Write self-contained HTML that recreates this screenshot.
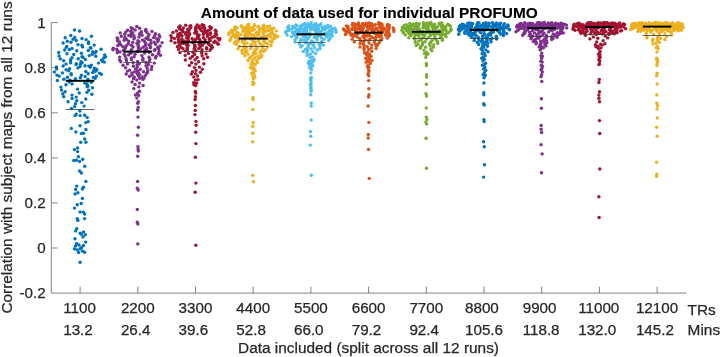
<!DOCTYPE html>
<html lang="en"><head><meta charset="utf-8"><title>Amount of data used for individual PROFUMO</title>
<style>html,body{margin:0;padding:0;background:#fff}body{width:720px;height:357px;overflow:hidden}svg{display:block;will-change:transform;opacity:.999}text{font-family:"Liberation Sans",Arial,Helvetica,sans-serif;fill:#262626;stroke:#262626;stroke-width:.25px}.t{font-size:15.2px}.l{font-size:15.4px}.b{font-size:15.4px;font-weight:bold;fill:#000;stroke:#000;stroke-width:.15px}</style></head><body>
<svg width="720" height="357" viewBox="0 0 720 357">
<rect width="720" height="357" fill="#fff"/>
<g fill="#0072BD">
<circle cx="70.8" cy="35.4" r="1.70"/>
<circle cx="91.5" cy="36.3" r="1.70"/>
<circle cx="74.7" cy="37.4" r="1.70"/>
<circle cx="65.2" cy="37.8" r="1.70"/>
<circle cx="82.0" cy="38.5" r="1.70"/>
<circle cx="73.1" cy="39.2" r="1.70"/>
<circle cx="86.1" cy="39.6" r="1.70"/>
<circle cx="76.3" cy="40.5" r="1.70"/>
<circle cx="67.3" cy="41.3" r="1.70"/>
<circle cx="88.6" cy="42.0" r="1.70"/>
<circle cx="71.0" cy="42.2" r="1.70"/>
<circle cx="63.1" cy="43.0" r="1.70"/>
<circle cx="88.5" cy="43.5" r="1.70"/>
<circle cx="78.0" cy="44.6" r="1.70"/>
<circle cx="94.2" cy="45.1" r="1.70"/>
<circle cx="81.9" cy="45.3" r="1.70"/>
<circle cx="66.8" cy="46.4" r="1.70"/>
<circle cx="82.6" cy="46.9" r="1.70"/>
<circle cx="66.3" cy="47.3" r="1.70"/>
<circle cx="90.3" cy="47.8" r="1.70"/>
<circle cx="91.0" cy="48.1" r="1.70"/>
<circle cx="72.0" cy="48.5" r="1.70"/>
<circle cx="101.1" cy="49.2" r="1.70"/>
<circle cx="69.4" cy="49.5" r="1.70"/>
<circle cx="64.7" cy="50.0" r="1.70"/>
<circle cx="88.3" cy="50.5" r="1.70"/>
<circle cx="76.7" cy="50.8" r="1.70"/>
<circle cx="96.1" cy="51.5" r="1.70"/>
<circle cx="92.7" cy="51.9" r="1.70"/>
<circle cx="58.7" cy="52.5" r="1.70"/>
<circle cx="95.0" cy="52.8" r="1.70"/>
<circle cx="81.4" cy="53.3" r="1.70"/>
<circle cx="67.0" cy="53.7" r="1.70"/>
<circle cx="92.4" cy="54.2" r="1.70"/>
<circle cx="73.8" cy="54.5" r="1.70"/>
<circle cx="104.7" cy="54.9" r="1.70"/>
<circle cx="89.3" cy="55.6" r="1.70"/>
<circle cx="59.1" cy="56.0" r="1.70"/>
<circle cx="95.8" cy="56.3" r="1.70"/>
<circle cx="82.0" cy="56.7" r="1.70"/>
<circle cx="105.6" cy="56.9" r="1.70"/>
<circle cx="82.9" cy="57.3" r="1.70"/>
<circle cx="72.0" cy="57.7" r="1.70"/>
<circle cx="103.6" cy="58.0" r="1.70"/>
<circle cx="78.2" cy="58.7" r="1.70"/>
<circle cx="60.3" cy="58.9" r="1.70"/>
<circle cx="85.3" cy="59.5" r="1.70"/>
<circle cx="70.5" cy="59.7" r="1.70"/>
<circle cx="101.6" cy="60.3" r="1.70"/>
<circle cx="70.6" cy="60.7" r="1.70"/>
<circle cx="63.7" cy="60.7" r="1.70"/>
<circle cx="102.6" cy="61.2" r="1.70"/>
<circle cx="81.0" cy="61.8" r="1.70"/>
<circle cx="104.4" cy="62.1" r="1.70"/>
<circle cx="82.2" cy="62.6" r="1.70"/>
<circle cx="70.7" cy="62.8" r="1.70"/>
<circle cx="98.5" cy="63.1" r="1.70"/>
<circle cx="76.3" cy="63.7" r="1.70"/>
<circle cx="66.0" cy="64.1" r="1.70"/>
<circle cx="80.5" cy="64.3" r="1.70"/>
<circle cx="76.1" cy="64.6" r="1.70"/>
<circle cx="91.4" cy="65.1" r="1.70"/>
<circle cx="85.0" cy="65.7" r="1.70"/>
<circle cx="63.1" cy="66.0" r="1.70"/>
<circle cx="88.8" cy="66.1" r="1.70"/>
<circle cx="80.0" cy="66.6" r="1.70"/>
<circle cx="56.4" cy="66.9" r="1.70"/>
<circle cx="90.3" cy="67.3" r="1.70"/>
<circle cx="78.0" cy="67.9" r="1.70"/>
<circle cx="94.4" cy="68.1" r="1.70"/>
<circle cx="69.6" cy="68.6" r="1.70"/>
<circle cx="56.6" cy="68.9" r="1.70"/>
<circle cx="96.3" cy="69.2" r="1.70"/>
<circle cx="66.1" cy="69.8" r="1.70"/>
<circle cx="96.8" cy="70.0" r="1.70"/>
<circle cx="93.8" cy="70.5" r="1.70"/>
<circle cx="68.7" cy="70.7" r="1.70"/>
<circle cx="95.3" cy="71.2" r="1.70"/>
<circle cx="85.8" cy="71.5" r="1.70"/>
<circle cx="54.4" cy="71.9" r="1.70"/>
<circle cx="92.7" cy="72.6" r="1.70"/>
<circle cx="62.4" cy="72.9" r="1.70"/>
<circle cx="99.4" cy="73.1" r="1.70"/>
<circle cx="88.1" cy="73.7" r="1.70"/>
<circle cx="71.1" cy="73.8" r="1.70"/>
<circle cx="101.4" cy="74.2" r="1.70"/>
<circle cx="71.3" cy="74.8" r="1.70"/>
<circle cx="56.9" cy="75.1" r="1.70"/>
<circle cx="81.4" cy="75.3" r="1.70"/>
<circle cx="59.2" cy="76.1" r="1.70"/>
<circle cx="96.4" cy="76.1" r="1.70"/>
<circle cx="85.2" cy="76.6" r="1.70"/>
<circle cx="67.4" cy="77.2" r="1.70"/>
<circle cx="93.4" cy="77.4" r="1.70"/>
<circle cx="80.4" cy="77.8" r="1.70"/>
<circle cx="95.1" cy="78.2" r="1.70"/>
<circle cx="75.4" cy="78.6" r="1.70"/>
<circle cx="63.9" cy="79.2" r="1.70"/>
<circle cx="87.9" cy="79.5" r="1.70"/>
<circle cx="69.9" cy="80.1" r="1.70"/>
<circle cx="57.4" cy="80.5" r="1.70"/>
<circle cx="87.7" cy="81.0" r="1.70"/>
<circle cx="69.2" cy="82.0" r="1.70"/>
<circle cx="91.3" cy="82.3" r="1.70"/>
<circle cx="84.8" cy="83.1" r="1.70"/>
<circle cx="72.1" cy="83.9" r="1.70"/>
<circle cx="87.0" cy="84.2" r="1.70"/>
<circle cx="66.0" cy="84.8" r="1.70"/>
<circle cx="88.0" cy="86.1" r="1.70"/>
<circle cx="87.2" cy="86.8" r="1.70"/>
<circle cx="60.9" cy="87.1" r="1.70"/>
<circle cx="92.5" cy="87.8" r="1.70"/>
<circle cx="77.5" cy="89.1" r="1.70"/>
<circle cx="61.5" cy="90.0" r="1.70"/>
<circle cx="88.7" cy="90.2" r="1.70"/>
<circle cx="65.1" cy="91.7" r="1.70"/>
<circle cx="86.9" cy="92.4" r="1.70"/>
<circle cx="79.2" cy="93.0" r="1.70"/>
<circle cx="62.8" cy="93.7" r="1.70"/>
<circle cx="91.9" cy="94.3" r="1.70"/>
<circle cx="72.0" cy="95.1" r="1.70"/>
<circle cx="63.7" cy="96.8" r="1.70"/>
<circle cx="76.2" cy="97.1" r="1.70"/>
<circle cx="72.1" cy="98.5" r="1.70"/>
<circle cx="85.8" cy="99.0" r="1.70"/>
<circle cx="76.8" cy="100.8" r="1.70"/>
<circle cx="68.1" cy="101.7" r="1.70"/>
<circle cx="81.8" cy="102.6" r="1.70"/>
<circle cx="75.4" cy="103.8" r="1.70"/>
<circle cx="84.1" cy="106.1" r="1.70"/>
<circle cx="74.7" cy="106.6" r="1.70"/>
<circle cx="71.5" cy="108.5" r="1.70"/>
<circle cx="79.8" cy="111.0" r="1.70"/>
<circle cx="76.3" cy="114.1" r="1.70"/>
<circle cx="74.5" cy="30.0" r="1.70"/>
<circle cx="79.6" cy="31.0" r="1.70"/>
<circle cx="75.1" cy="115.6" r="1.70"/>
<circle cx="80.1" cy="115.6" r="1.70"/>
<circle cx="84.7" cy="115.2" r="1.70"/>
<circle cx="87.2" cy="117.6" r="1.70"/>
<circle cx="88.2" cy="121.6" r="1.70"/>
<circle cx="85.9" cy="122.6" r="1.70"/>
<circle cx="80.1" cy="125.7" r="1.70"/>
<circle cx="71.3" cy="128.4" r="1.70"/>
<circle cx="85.9" cy="129.5" r="1.70"/>
<circle cx="75.9" cy="132.0" r="1.70"/>
<circle cx="83.4" cy="133.3" r="1.70"/>
<circle cx="81.4" cy="133.6" r="1.70"/>
<circle cx="84.7" cy="139.0" r="1.70"/>
<circle cx="80.7" cy="142.3" r="1.70"/>
<circle cx="85.9" cy="142.3" r="1.70"/>
<circle cx="77.6" cy="147.9" r="1.70"/>
<circle cx="74.4" cy="149.6" r="1.70"/>
<circle cx="77.6" cy="151.6" r="1.70"/>
<circle cx="78.4" cy="156.7" r="1.70"/>
<circle cx="73.8" cy="160.5" r="1.70"/>
<circle cx="76.4" cy="160.2" r="1.70"/>
<circle cx="82.7" cy="159.2" r="1.70"/>
<circle cx="79.6" cy="161.4" r="1.70"/>
<circle cx="84.7" cy="166.3" r="1.70"/>
<circle cx="79.6" cy="171.0" r="1.70"/>
<circle cx="81.4" cy="173.0" r="1.70"/>
<circle cx="85.9" cy="181.4" r="1.70"/>
<circle cx="76.8" cy="186.1" r="1.70"/>
<circle cx="83.5" cy="187.2" r="1.70"/>
<circle cx="75.6" cy="189.5" r="1.70"/>
<circle cx="82.4" cy="189.0" r="1.70"/>
<circle cx="77.9" cy="192.8" r="1.70"/>
<circle cx="75.0" cy="194.0" r="1.70"/>
<circle cx="82.4" cy="198.4" r="1.70"/>
<circle cx="81.2" cy="203.4" r="1.70"/>
<circle cx="77.2" cy="204.7" r="1.70"/>
<circle cx="74.5" cy="208.1" r="1.70"/>
<circle cx="80.1" cy="211.9" r="1.70"/>
<circle cx="83.5" cy="212.3" r="1.70"/>
<circle cx="84.6" cy="214.1" r="1.70"/>
<circle cx="77.2" cy="218.6" r="1.70"/>
<circle cx="77.9" cy="220.4" r="1.70"/>
<circle cx="84.6" cy="218.6" r="1.70"/>
<circle cx="76.8" cy="228.7" r="1.70"/>
<circle cx="75.6" cy="230.9" r="1.70"/>
<circle cx="83.5" cy="232.0" r="1.70"/>
<circle cx="80.1" cy="233.1" r="1.70"/>
<circle cx="81.2" cy="234.3" r="1.70"/>
<circle cx="85.3" cy="234.7" r="1.70"/>
<circle cx="83.0" cy="236.9" r="1.70"/>
<circle cx="75.0" cy="238.7" r="1.70"/>
<circle cx="85.7" cy="242.1" r="1.70"/>
<circle cx="79.0" cy="245.0" r="1.70"/>
<circle cx="75.6" cy="245.9" r="1.70"/>
<circle cx="83.5" cy="245.4" r="1.70"/>
<circle cx="74.5" cy="248.8" r="1.70"/>
<circle cx="77.2" cy="249.9" r="1.70"/>
<circle cx="80.1" cy="248.8" r="1.70"/>
<circle cx="82.4" cy="251.0" r="1.70"/>
<circle cx="84.6" cy="252.2" r="1.70"/>
<circle cx="76.6" cy="243.5" r="1.70"/>
<circle cx="81.6" cy="247.5" r="1.70"/>
<circle cx="78.6" cy="252.5" r="1.70"/>
<circle cx="80.1" cy="262.2" r="1.70"/>
</g>
<g fill="#7E2F8E">
<circle cx="136.8" cy="26.5" r="1.70"/>
<circle cx="131.1" cy="27.8" r="1.70"/>
<circle cx="139.6" cy="28.2" r="1.70"/>
<circle cx="132.6" cy="28.9" r="1.70"/>
<circle cx="145.9" cy="29.4" r="1.70"/>
<circle cx="135.2" cy="30.0" r="1.70"/>
<circle cx="127.6" cy="30.3" r="1.70"/>
<circle cx="145.5" cy="30.8" r="1.70"/>
<circle cx="130.8" cy="31.2" r="1.70"/>
<circle cx="152.0" cy="31.4" r="1.70"/>
<circle cx="141.3" cy="31.8" r="1.70"/>
<circle cx="125.8" cy="32.1" r="1.70"/>
<circle cx="146.8" cy="32.2" r="1.70"/>
<circle cx="132.7" cy="32.7" r="1.70"/>
<circle cx="120.2" cy="32.9" r="1.70"/>
<circle cx="140.7" cy="33.0" r="1.70"/>
<circle cx="131.3" cy="33.4" r="1.70"/>
<circle cx="155.4" cy="33.7" r="1.70"/>
<circle cx="139.4" cy="34.0" r="1.70"/>
<circle cx="124.7" cy="34.2" r="1.70"/>
<circle cx="148.9" cy="34.5" r="1.70"/>
<circle cx="131.2" cy="34.8" r="1.70"/>
<circle cx="159.1" cy="35.0" r="1.70"/>
<circle cx="142.1" cy="35.3" r="1.70"/>
<circle cx="128.7" cy="35.4" r="1.70"/>
<circle cx="154.7" cy="35.7" r="1.70"/>
<circle cx="133.9" cy="35.8" r="1.70"/>
<circle cx="121.3" cy="36.2" r="1.70"/>
<circle cx="148.1" cy="36.4" r="1.70"/>
<circle cx="130.9" cy="36.6" r="1.70"/>
<circle cx="159.8" cy="36.9" r="1.70"/>
<circle cx="139.0" cy="37.0" r="1.70"/>
<circle cx="124.9" cy="37.4" r="1.70"/>
<circle cx="153.6" cy="37.6" r="1.70"/>
<circle cx="134.4" cy="37.8" r="1.70"/>
<circle cx="117.1" cy="38.0" r="1.70"/>
<circle cx="146.0" cy="38.3" r="1.70"/>
<circle cx="125.4" cy="38.4" r="1.70"/>
<circle cx="156.8" cy="38.7" r="1.70"/>
<circle cx="133.9" cy="38.9" r="1.70"/>
<circle cx="117.9" cy="39.0" r="1.70"/>
<circle cx="148.1" cy="39.2" r="1.70"/>
<circle cx="126.5" cy="39.5" r="1.70"/>
<circle cx="158.5" cy="39.8" r="1.70"/>
<circle cx="142.5" cy="40.0" r="1.70"/>
<circle cx="124.2" cy="40.2" r="1.70"/>
<circle cx="150.7" cy="40.3" r="1.70"/>
<circle cx="137.9" cy="40.7" r="1.70"/>
<circle cx="117.4" cy="40.8" r="1.70"/>
<circle cx="144.5" cy="41.1" r="1.70"/>
<circle cx="128.7" cy="41.2" r="1.70"/>
<circle cx="157.7" cy="41.5" r="1.70"/>
<circle cx="139.0" cy="41.8" r="1.70"/>
<circle cx="119.5" cy="41.9" r="1.70"/>
<circle cx="154.1" cy="42.1" r="1.70"/>
<circle cx="132.8" cy="42.4" r="1.70"/>
<circle cx="162.1" cy="42.6" r="1.70"/>
<circle cx="145.2" cy="42.9" r="1.70"/>
<circle cx="128.3" cy="43.1" r="1.70"/>
<circle cx="151.0" cy="43.3" r="1.70"/>
<circle cx="137.0" cy="43.5" r="1.70"/>
<circle cx="119.3" cy="43.8" r="1.70"/>
<circle cx="145.7" cy="43.8" r="1.70"/>
<circle cx="128.2" cy="44.1" r="1.70"/>
<circle cx="155.6" cy="44.3" r="1.70"/>
<circle cx="138.1" cy="44.5" r="1.70"/>
<circle cx="120.8" cy="44.8" r="1.70"/>
<circle cx="148.9" cy="45.0" r="1.70"/>
<circle cx="131.4" cy="45.2" r="1.70"/>
<circle cx="117.8" cy="45.5" r="1.70"/>
<circle cx="145.3" cy="45.6" r="1.70"/>
<circle cx="126.2" cy="45.8" r="1.70"/>
<circle cx="160.2" cy="46.0" r="1.70"/>
<circle cx="138.3" cy="46.3" r="1.70"/>
<circle cx="122.8" cy="46.6" r="1.70"/>
<circle cx="150.5" cy="46.6" r="1.70"/>
<circle cx="133.0" cy="47.0" r="1.70"/>
<circle cx="157.8" cy="47.2" r="1.70"/>
<circle cx="143.0" cy="47.3" r="1.70"/>
<circle cx="125.3" cy="47.6" r="1.70"/>
<circle cx="150.4" cy="47.7" r="1.70"/>
<circle cx="138.4" cy="48.0" r="1.70"/>
<circle cx="113.2" cy="48.2" r="1.70"/>
<circle cx="146.6" cy="48.4" r="1.70"/>
<circle cx="125.0" cy="48.5" r="1.70"/>
<circle cx="158.7" cy="48.9" r="1.70"/>
<circle cx="140.4" cy="49.0" r="1.70"/>
<circle cx="116.6" cy="49.2" r="1.70"/>
<circle cx="155.1" cy="49.5" r="1.70"/>
<circle cx="131.5" cy="49.6" r="1.70"/>
<circle cx="112.9" cy="49.8" r="1.70"/>
<circle cx="144.9" cy="50.1" r="1.70"/>
<circle cx="123.5" cy="50.2" r="1.70"/>
<circle cx="154.4" cy="50.5" r="1.70"/>
<circle cx="137.9" cy="50.6" r="1.70"/>
<circle cx="117.5" cy="51.0" r="1.70"/>
<circle cx="147.0" cy="51.2" r="1.70"/>
<circle cx="131.0" cy="51.2" r="1.70"/>
<circle cx="159.0" cy="51.5" r="1.70"/>
<circle cx="137.3" cy="51.6" r="1.70"/>
<circle cx="120.0" cy="51.9" r="1.70"/>
<circle cx="149.3" cy="52.3" r="1.70"/>
<circle cx="131.3" cy="52.7" r="1.70"/>
<circle cx="117.3" cy="52.8" r="1.70"/>
<circle cx="144.6" cy="53.1" r="1.70"/>
<circle cx="130.1" cy="53.4" r="1.70"/>
<circle cx="158.4" cy="53.8" r="1.70"/>
<circle cx="135.0" cy="54.2" r="1.70"/>
<circle cx="124.2" cy="54.3" r="1.70"/>
<circle cx="152.5" cy="54.8" r="1.70"/>
<circle cx="128.6" cy="54.9" r="1.70"/>
<circle cx="160.4" cy="55.3" r="1.70"/>
<circle cx="141.9" cy="55.6" r="1.70"/>
<circle cx="125.3" cy="56.1" r="1.70"/>
<circle cx="156.0" cy="56.3" r="1.70"/>
<circle cx="134.1" cy="56.7" r="1.70"/>
<circle cx="119.7" cy="57.1" r="1.70"/>
<circle cx="149.0" cy="57.3" r="1.70"/>
<circle cx="131.3" cy="57.9" r="1.70"/>
<circle cx="155.6" cy="58.0" r="1.70"/>
<circle cx="142.9" cy="58.5" r="1.70"/>
<circle cx="126.1" cy="58.8" r="1.70"/>
<circle cx="149.9" cy="59.1" r="1.70"/>
<circle cx="131.4" cy="59.6" r="1.70"/>
<circle cx="119.6" cy="59.9" r="1.70"/>
<circle cx="142.9" cy="60.3" r="1.70"/>
<circle cx="126.5" cy="60.7" r="1.70"/>
<circle cx="149.3" cy="61.1" r="1.70"/>
<circle cx="137.6" cy="61.4" r="1.70"/>
<circle cx="120.8" cy="61.8" r="1.70"/>
<circle cx="145.9" cy="62.4" r="1.70"/>
<circle cx="133.1" cy="62.8" r="1.70"/>
<circle cx="154.3" cy="63.1" r="1.70"/>
<circle cx="139.3" cy="63.7" r="1.70"/>
<circle cx="127.6" cy="64.0" r="1.70"/>
<circle cx="148.4" cy="64.5" r="1.70"/>
<circle cx="137.1" cy="64.7" r="1.70"/>
<circle cx="123.0" cy="65.3" r="1.70"/>
<circle cx="146.0" cy="65.8" r="1.70"/>
<circle cx="133.4" cy="66.3" r="1.70"/>
<circle cx="151.8" cy="66.5" r="1.70"/>
<circle cx="137.3" cy="67.0" r="1.70"/>
<circle cx="125.6" cy="67.8" r="1.70"/>
<circle cx="147.2" cy="68.0" r="1.70"/>
<circle cx="135.7" cy="68.9" r="1.70"/>
<circle cx="151.4" cy="69.4" r="1.70"/>
<circle cx="140.3" cy="69.5" r="1.70"/>
<circle cx="129.7" cy="70.1" r="1.70"/>
<circle cx="147.8" cy="70.6" r="1.70"/>
<circle cx="137.3" cy="70.8" r="1.70"/>
<circle cx="127.5" cy="71.1" r="1.70"/>
<circle cx="143.5" cy="71.7" r="1.70"/>
<circle cx="134.4" cy="71.9" r="1.70"/>
<circle cx="147.5" cy="72.4" r="1.70"/>
<circle cx="138.3" cy="72.5" r="1.70"/>
<circle cx="131.8" cy="73.0" r="1.70"/>
<circle cx="146.5" cy="73.4" r="1.70"/>
<circle cx="137.2" cy="73.6" r="1.70"/>
<circle cx="126.2" cy="74.0" r="1.70"/>
<circle cx="139.6" cy="74.6" r="1.70"/>
<circle cx="132.2" cy="75.1" r="1.70"/>
<circle cx="145.3" cy="75.6" r="1.70"/>
<circle cx="138.3" cy="75.7" r="1.70"/>
<circle cx="129.6" cy="76.3" r="1.70"/>
<circle cx="142.1" cy="76.9" r="1.70"/>
<circle cx="134.3" cy="77.3" r="1.70"/>
<circle cx="144.1" cy="78.0" r="1.70"/>
<circle cx="139.7" cy="78.3" r="1.70"/>
<circle cx="133.6" cy="78.8" r="1.70"/>
<circle cx="142.9" cy="79.4" r="1.70"/>
<circle cx="136.8" cy="80.0" r="1.70"/>
<circle cx="132.0" cy="81.9" r="1.70"/>
<circle cx="139.6" cy="83.1" r="1.70"/>
<circle cx="135.1" cy="84.5" r="1.70"/>
<circle cx="143.1" cy="85.4" r="1.70"/>
<circle cx="138.8" cy="86.9" r="1.70"/>
<circle cx="133.8" cy="88.6" r="1.70"/>
<circle cx="139.5" cy="91.2" r="1.70"/>
<circle cx="137.4" cy="93.1" r="1.70"/>
<circle cx="135.4" cy="95.0" r="1.70"/>
<circle cx="138.6" cy="95.4" r="1.70"/>
<circle cx="136.8" cy="98.1" r="1.70"/>
<circle cx="138.4" cy="101.6" r="1.70"/>
<circle cx="137.7" cy="103.2" r="1.70"/>
<circle cx="138.2" cy="107.5" r="1.70"/>
<circle cx="137.6" cy="110.0" r="1.70"/>
<circle cx="138.0" cy="117.1" r="1.70"/>
<circle cx="138.4" cy="127.2" r="1.70"/>
<circle cx="137.6" cy="135.2" r="1.70"/>
<circle cx="137.9" cy="146.6" r="1.70"/>
<circle cx="138.1" cy="149.1" r="1.70"/>
<circle cx="138.3" cy="151.1" r="1.70"/>
<circle cx="137.7" cy="156.2" r="1.70"/>
<circle cx="137.6" cy="181.4" r="1.70"/>
<circle cx="137.3" cy="188.2" r="1.70"/>
<circle cx="138.2" cy="190.0" r="1.70"/>
<circle cx="137.3" cy="209.4" r="1.70"/>
<circle cx="137.3" cy="222.3" r="1.70"/>
<circle cx="137.9" cy="224.0" r="1.70"/>
<circle cx="137.8" cy="243.9" r="1.70"/>
</g>
<g fill="#A2142F">
<circle cx="202.2" cy="24.6" r="1.70"/>
<circle cx="197.2" cy="24.9" r="1.70"/>
<circle cx="185.7" cy="25.3" r="1.70"/>
<circle cx="203.9" cy="25.4" r="1.70"/>
<circle cx="190.7" cy="25.7" r="1.70"/>
<circle cx="180.2" cy="26.0" r="1.70"/>
<circle cx="199.4" cy="26.1" r="1.70"/>
<circle cx="189.8" cy="26.4" r="1.70"/>
<circle cx="209.8" cy="26.7" r="1.70"/>
<circle cx="195.9" cy="26.9" r="1.70"/>
<circle cx="178.7" cy="27.1" r="1.70"/>
<circle cx="202.9" cy="27.2" r="1.70"/>
<circle cx="190.8" cy="27.5" r="1.70"/>
<circle cx="211.4" cy="27.8" r="1.70"/>
<circle cx="198.8" cy="27.9" r="1.70"/>
<circle cx="183.4" cy="28.0" r="1.70"/>
<circle cx="204.6" cy="28.3" r="1.70"/>
<circle cx="195.8" cy="28.5" r="1.70"/>
<circle cx="179.5" cy="28.7" r="1.70"/>
<circle cx="200.3" cy="28.9" r="1.70"/>
<circle cx="187.6" cy="29.1" r="1.70"/>
<circle cx="210.4" cy="29.2" r="1.70"/>
<circle cx="195.5" cy="29.5" r="1.70"/>
<circle cx="181.0" cy="29.6" r="1.70"/>
<circle cx="204.7" cy="29.7" r="1.70"/>
<circle cx="189.2" cy="29.9" r="1.70"/>
<circle cx="215.4" cy="30.2" r="1.70"/>
<circle cx="201.3" cy="30.4" r="1.70"/>
<circle cx="182.4" cy="30.4" r="1.70"/>
<circle cx="208.2" cy="30.6" r="1.70"/>
<circle cx="195.6" cy="30.8" r="1.70"/>
<circle cx="176.4" cy="31.0" r="1.70"/>
<circle cx="207.3" cy="31.2" r="1.70"/>
<circle cx="188.0" cy="31.3" r="1.70"/>
<circle cx="216.2" cy="31.5" r="1.70"/>
<circle cx="196.7" cy="31.7" r="1.70"/>
<circle cx="183.3" cy="31.9" r="1.70"/>
<circle cx="205.5" cy="32.0" r="1.70"/>
<circle cx="188.8" cy="32.2" r="1.70"/>
<circle cx="173.0" cy="32.4" r="1.70"/>
<circle cx="203.3" cy="32.5" r="1.70"/>
<circle cx="186.3" cy="32.7" r="1.70"/>
<circle cx="210.5" cy="32.9" r="1.70"/>
<circle cx="194.7" cy="33.0" r="1.70"/>
<circle cx="180.4" cy="33.1" r="1.70"/>
<circle cx="207.0" cy="33.3" r="1.70"/>
<circle cx="185.7" cy="33.5" r="1.70"/>
<circle cx="215.4" cy="33.7" r="1.70"/>
<circle cx="197.1" cy="33.9" r="1.70"/>
<circle cx="178.9" cy="34.0" r="1.70"/>
<circle cx="210.1" cy="34.2" r="1.70"/>
<circle cx="189.6" cy="34.2" r="1.70"/>
<circle cx="177.9" cy="34.4" r="1.70"/>
<circle cx="203.5" cy="34.6" r="1.70"/>
<circle cx="185.9" cy="34.7" r="1.70"/>
<circle cx="216.6" cy="34.8" r="1.70"/>
<circle cx="199.2" cy="35.1" r="1.70"/>
<circle cx="181.1" cy="35.3" r="1.70"/>
<circle cx="207.7" cy="35.3" r="1.70"/>
<circle cx="188.7" cy="35.5" r="1.70"/>
<circle cx="171.0" cy="35.6" r="1.70"/>
<circle cx="197.8" cy="35.9" r="1.70"/>
<circle cx="182.0" cy="36.0" r="1.70"/>
<circle cx="214.9" cy="36.1" r="1.70"/>
<circle cx="198.2" cy="36.2" r="1.70"/>
<circle cx="177.6" cy="36.5" r="1.70"/>
<circle cx="207.5" cy="36.6" r="1.70"/>
<circle cx="187.9" cy="36.7" r="1.70"/>
<circle cx="214.3" cy="36.8" r="1.70"/>
<circle cx="197.6" cy="37.0" r="1.70"/>
<circle cx="178.5" cy="37.2" r="1.70"/>
<circle cx="212.0" cy="37.3" r="1.70"/>
<circle cx="188.4" cy="37.4" r="1.70"/>
<circle cx="171.5" cy="37.6" r="1.70"/>
<circle cx="203.5" cy="37.8" r="1.70"/>
<circle cx="186.6" cy="37.9" r="1.70"/>
<circle cx="217.7" cy="38.1" r="1.70"/>
<circle cx="197.0" cy="38.2" r="1.70"/>
<circle cx="174.4" cy="38.4" r="1.70"/>
<circle cx="210.0" cy="38.5" r="1.70"/>
<circle cx="192.1" cy="38.7" r="1.70"/>
<circle cx="219.9" cy="38.8" r="1.70"/>
<circle cx="199.4" cy="39.0" r="1.70"/>
<circle cx="181.7" cy="39.1" r="1.70"/>
<circle cx="209.4" cy="39.3" r="1.70"/>
<circle cx="195.0" cy="39.4" r="1.70"/>
<circle cx="178.4" cy="39.5" r="1.70"/>
<circle cx="205.1" cy="39.7" r="1.70"/>
<circle cx="187.9" cy="39.9" r="1.70"/>
<circle cx="219.2" cy="40.0" r="1.70"/>
<circle cx="195.4" cy="40.1" r="1.70"/>
<circle cx="182.6" cy="40.2" r="1.70"/>
<circle cx="210.3" cy="40.5" r="1.70"/>
<circle cx="188.3" cy="40.7" r="1.70"/>
<circle cx="171.1" cy="40.7" r="1.70"/>
<circle cx="200.2" cy="40.8" r="1.70"/>
<circle cx="184.2" cy="41.0" r="1.70"/>
<circle cx="215.1" cy="41.2" r="1.70"/>
<circle cx="193.7" cy="41.3" r="1.70"/>
<circle cx="179.9" cy="41.6" r="1.70"/>
<circle cx="205.4" cy="41.6" r="1.70"/>
<circle cx="187.7" cy="41.8" r="1.70"/>
<circle cx="214.9" cy="41.9" r="1.70"/>
<circle cx="203.0" cy="42.1" r="1.70"/>
<circle cx="178.4" cy="42.3" r="1.70"/>
<circle cx="213.7" cy="42.4" r="1.70"/>
<circle cx="192.8" cy="42.6" r="1.70"/>
<circle cx="174.9" cy="42.8" r="1.70"/>
<circle cx="204.0" cy="43.0" r="1.70"/>
<circle cx="183.9" cy="43.2" r="1.70"/>
<circle cx="217.5" cy="43.2" r="1.70"/>
<circle cx="200.3" cy="43.4" r="1.70"/>
<circle cx="181.4" cy="43.6" r="1.70"/>
<circle cx="208.2" cy="43.8" r="1.70"/>
<circle cx="187.2" cy="44.0" r="1.70"/>
<circle cx="218.2" cy="44.2" r="1.70"/>
<circle cx="199.2" cy="44.4" r="1.70"/>
<circle cx="186.4" cy="44.5" r="1.70"/>
<circle cx="209.4" cy="44.7" r="1.70"/>
<circle cx="194.7" cy="44.9" r="1.70"/>
<circle cx="179.5" cy="45.0" r="1.70"/>
<circle cx="202.3" cy="45.3" r="1.70"/>
<circle cx="188.1" cy="45.4" r="1.70"/>
<circle cx="211.6" cy="45.7" r="1.70"/>
<circle cx="194.9" cy="45.9" r="1.70"/>
<circle cx="179.7" cy="46.0" r="1.70"/>
<circle cx="211.2" cy="46.2" r="1.70"/>
<circle cx="194.8" cy="46.5" r="1.70"/>
<circle cx="177.4" cy="46.7" r="1.70"/>
<circle cx="200.3" cy="46.8" r="1.70"/>
<circle cx="187.3" cy="47.0" r="1.70"/>
<circle cx="212.3" cy="47.3" r="1.70"/>
<circle cx="194.9" cy="47.4" r="1.70"/>
<circle cx="181.4" cy="47.6" r="1.70"/>
<circle cx="206.6" cy="47.8" r="1.70"/>
<circle cx="187.2" cy="48.2" r="1.70"/>
<circle cx="211.4" cy="48.4" r="1.70"/>
<circle cx="198.8" cy="48.5" r="1.70"/>
<circle cx="182.9" cy="48.7" r="1.70"/>
<circle cx="206.7" cy="49.0" r="1.70"/>
<circle cx="194.1" cy="49.1" r="1.70"/>
<circle cx="178.6" cy="49.5" r="1.70"/>
<circle cx="202.0" cy="49.7" r="1.70"/>
<circle cx="187.4" cy="49.8" r="1.70"/>
<circle cx="210.2" cy="50.0" r="1.70"/>
<circle cx="195.9" cy="50.7" r="1.70"/>
<circle cx="185.0" cy="51.1" r="1.70"/>
<circle cx="201.9" cy="51.8" r="1.70"/>
<circle cx="193.0" cy="52.2" r="1.70"/>
<circle cx="180.0" cy="52.6" r="1.70"/>
<circle cx="201.7" cy="52.9" r="1.70"/>
<circle cx="188.4" cy="53.4" r="1.70"/>
<circle cx="206.0" cy="54.0" r="1.70"/>
<circle cx="194.6" cy="54.5" r="1.70"/>
<circle cx="185.2" cy="55.4" r="1.70"/>
<circle cx="202.1" cy="55.8" r="1.70"/>
<circle cx="192.4" cy="56.5" r="1.70"/>
<circle cx="207.5" cy="57.3" r="1.70"/>
<circle cx="197.2" cy="57.5" r="1.70"/>
<circle cx="190.2" cy="58.3" r="1.70"/>
<circle cx="203.7" cy="58.7" r="1.70"/>
<circle cx="195.1" cy="59.8" r="1.70"/>
<circle cx="185.4" cy="60.0" r="1.70"/>
<circle cx="198.5" cy="61.7" r="1.70"/>
<circle cx="191.6" cy="62.8" r="1.70"/>
<circle cx="203.9" cy="63.8" r="1.70"/>
<circle cx="195.9" cy="64.1" r="1.70"/>
<circle cx="189.4" cy="65.4" r="1.70"/>
<circle cx="199.4" cy="67.1" r="1.70"/>
<circle cx="194.5" cy="67.6" r="1.70"/>
<circle cx="202.3" cy="69.3" r="1.70"/>
<circle cx="196.0" cy="70.4" r="1.70"/>
<circle cx="192.4" cy="71.7" r="1.70"/>
<circle cx="200.5" cy="72.3" r="1.70"/>
<circle cx="195.5" cy="73.6" r="1.70"/>
<circle cx="191.3" cy="74.1" r="1.70"/>
<circle cx="197.5" cy="76.0" r="1.70"/>
<circle cx="193.8" cy="76.9" r="1.70"/>
<circle cx="198.1" cy="79.6" r="1.70"/>
<circle cx="195.4" cy="79.9" r="1.70"/>
<circle cx="193.7" cy="82.6" r="1.70"/>
<circle cx="196.7" cy="82.9" r="1.70"/>
<circle cx="195.1" cy="83.9" r="1.70"/>
<circle cx="193.9" cy="84.8" r="1.70"/>
<circle cx="195.7" cy="85.5" r="1.70"/>
<circle cx="195.3" cy="91.4" r="1.70"/>
<circle cx="195.8" cy="93.1" r="1.70"/>
<circle cx="195.4" cy="96.7" r="1.70"/>
<circle cx="195.1" cy="99.5" r="1.70"/>
<circle cx="195.4" cy="105.5" r="1.70"/>
<circle cx="195.2" cy="110.5" r="1.70"/>
<circle cx="195.0" cy="114.6" r="1.70"/>
<circle cx="196.0" cy="121.4" r="1.70"/>
<circle cx="196.1" cy="125.2" r="1.70"/>
<circle cx="195.7" cy="132.2" r="1.70"/>
<circle cx="195.9" cy="143.6" r="1.70"/>
<circle cx="195.4" cy="157.2" r="1.70"/>
<circle cx="195.9" cy="183.1" r="1.70"/>
<circle cx="195.2" cy="192.2" r="1.70"/>
<circle cx="195.8" cy="245.2" r="1.70"/>
</g>
<g fill="#EDB120">
<circle cx="248.7" cy="24.1" r="1.70"/>
<circle cx="254.4" cy="24.7" r="1.70"/>
<circle cx="248.0" cy="24.7" r="1.70"/>
<circle cx="263.7" cy="25.2" r="1.70"/>
<circle cx="254.6" cy="25.3" r="1.70"/>
<circle cx="241.5" cy="25.6" r="1.70"/>
<circle cx="263.4" cy="25.8" r="1.70"/>
<circle cx="247.6" cy="25.9" r="1.70"/>
<circle cx="269.5" cy="26.1" r="1.70"/>
<circle cx="258.3" cy="26.2" r="1.70"/>
<circle cx="241.4" cy="26.4" r="1.70"/>
<circle cx="266.9" cy="26.5" r="1.70"/>
<circle cx="249.0" cy="26.8" r="1.70"/>
<circle cx="235.0" cy="27.0" r="1.70"/>
<circle cx="258.0" cy="27.1" r="1.70"/>
<circle cx="245.3" cy="27.2" r="1.70"/>
<circle cx="267.3" cy="27.4" r="1.70"/>
<circle cx="252.4" cy="27.5" r="1.70"/>
<circle cx="237.0" cy="27.7" r="1.70"/>
<circle cx="263.8" cy="27.9" r="1.70"/>
<circle cx="247.1" cy="28.0" r="1.70"/>
<circle cx="273.7" cy="28.2" r="1.70"/>
<circle cx="261.5" cy="28.4" r="1.70"/>
<circle cx="243.2" cy="28.5" r="1.70"/>
<circle cx="270.8" cy="28.6" r="1.70"/>
<circle cx="249.9" cy="28.7" r="1.70"/>
<circle cx="234.6" cy="28.9" r="1.70"/>
<circle cx="259.3" cy="29.1" r="1.70"/>
<circle cx="246.8" cy="29.3" r="1.70"/>
<circle cx="271.9" cy="29.3" r="1.70"/>
<circle cx="254.3" cy="29.5" r="1.70"/>
<circle cx="235.4" cy="29.6" r="1.70"/>
<circle cx="264.3" cy="29.8" r="1.70"/>
<circle cx="247.7" cy="29.8" r="1.70"/>
<circle cx="231.3" cy="30.1" r="1.70"/>
<circle cx="263.2" cy="30.2" r="1.70"/>
<circle cx="244.3" cy="30.3" r="1.70"/>
<circle cx="269.3" cy="30.5" r="1.70"/>
<circle cx="252.5" cy="30.5" r="1.70"/>
<circle cx="233.3" cy="30.8" r="1.70"/>
<circle cx="267.6" cy="30.8" r="1.70"/>
<circle cx="245.7" cy="30.9" r="1.70"/>
<circle cx="276.5" cy="31.1" r="1.70"/>
<circle cx="259.4" cy="31.2" r="1.70"/>
<circle cx="242.8" cy="31.4" r="1.70"/>
<circle cx="265.2" cy="31.6" r="1.70"/>
<circle cx="249.5" cy="31.7" r="1.70"/>
<circle cx="231.9" cy="31.7" r="1.70"/>
<circle cx="258.9" cy="31.9" r="1.70"/>
<circle cx="246.8" cy="32.1" r="1.70"/>
<circle cx="272.1" cy="32.2" r="1.70"/>
<circle cx="257.2" cy="32.3" r="1.70"/>
<circle cx="236.9" cy="32.4" r="1.70"/>
<circle cx="263.1" cy="32.5" r="1.70"/>
<circle cx="247.3" cy="32.7" r="1.70"/>
<circle cx="229.0" cy="32.8" r="1.70"/>
<circle cx="256.0" cy="32.9" r="1.70"/>
<circle cx="238.3" cy="33.0" r="1.70"/>
<circle cx="271.7" cy="33.2" r="1.70"/>
<circle cx="248.8" cy="33.4" r="1.70"/>
<circle cx="232.5" cy="33.4" r="1.70"/>
<circle cx="263.3" cy="33.6" r="1.70"/>
<circle cx="245.7" cy="33.8" r="1.70"/>
<circle cx="272.6" cy="33.9" r="1.70"/>
<circle cx="258.5" cy="33.9" r="1.70"/>
<circle cx="236.4" cy="34.1" r="1.70"/>
<circle cx="270.1" cy="34.3" r="1.70"/>
<circle cx="251.0" cy="34.4" r="1.70"/>
<circle cx="228.8" cy="34.5" r="1.70"/>
<circle cx="259.0" cy="34.6" r="1.70"/>
<circle cx="240.9" cy="34.7" r="1.70"/>
<circle cx="274.5" cy="34.9" r="1.70"/>
<circle cx="253.4" cy="35.0" r="1.70"/>
<circle cx="234.6" cy="35.1" r="1.70"/>
<circle cx="268.6" cy="35.3" r="1.70"/>
<circle cx="244.8" cy="35.3" r="1.70"/>
<circle cx="275.7" cy="35.5" r="1.70"/>
<circle cx="257.4" cy="35.6" r="1.70"/>
<circle cx="237.6" cy="35.7" r="1.70"/>
<circle cx="266.6" cy="35.9" r="1.70"/>
<circle cx="247.7" cy="36.0" r="1.70"/>
<circle cx="233.6" cy="36.1" r="1.70"/>
<circle cx="263.6" cy="36.3" r="1.70"/>
<circle cx="246.7" cy="36.4" r="1.70"/>
<circle cx="277.8" cy="36.5" r="1.70"/>
<circle cx="254.3" cy="36.7" r="1.70"/>
<circle cx="238.3" cy="36.7" r="1.70"/>
<circle cx="270.8" cy="37.0" r="1.70"/>
<circle cx="246.4" cy="37.1" r="1.70"/>
<circle cx="231.4" cy="37.1" r="1.70"/>
<circle cx="261.6" cy="37.3" r="1.70"/>
<circle cx="245.1" cy="37.4" r="1.70"/>
<circle cx="274.6" cy="37.5" r="1.70"/>
<circle cx="251.0" cy="37.7" r="1.70"/>
<circle cx="235.6" cy="37.8" r="1.70"/>
<circle cx="261.4" cy="37.9" r="1.70"/>
<circle cx="245.5" cy="38.1" r="1.70"/>
<circle cx="275.1" cy="38.2" r="1.70"/>
<circle cx="254.1" cy="38.3" r="1.70"/>
<circle cx="238.2" cy="38.5" r="1.70"/>
<circle cx="267.4" cy="38.7" r="1.70"/>
<circle cx="250.4" cy="38.8" r="1.70"/>
<circle cx="230.5" cy="39.0" r="1.70"/>
<circle cx="259.1" cy="39.2" r="1.70"/>
<circle cx="242.8" cy="39.4" r="1.70"/>
<circle cx="272.6" cy="39.6" r="1.70"/>
<circle cx="252.2" cy="39.8" r="1.70"/>
<circle cx="238.0" cy="39.9" r="1.70"/>
<circle cx="263.8" cy="40.2" r="1.70"/>
<circle cx="244.8" cy="40.3" r="1.70"/>
<circle cx="229.9" cy="40.6" r="1.70"/>
<circle cx="258.3" cy="40.7" r="1.70"/>
<circle cx="238.6" cy="40.9" r="1.70"/>
<circle cx="270.2" cy="41.2" r="1.70"/>
<circle cx="253.6" cy="41.4" r="1.70"/>
<circle cx="235.4" cy="41.6" r="1.70"/>
<circle cx="264.1" cy="41.7" r="1.70"/>
<circle cx="242.4" cy="42.0" r="1.70"/>
<circle cx="272.0" cy="42.1" r="1.70"/>
<circle cx="255.1" cy="42.4" r="1.70"/>
<circle cx="236.9" cy="42.6" r="1.70"/>
<circle cx="265.3" cy="42.7" r="1.70"/>
<circle cx="247.0" cy="43.1" r="1.70"/>
<circle cx="234.5" cy="43.3" r="1.70"/>
<circle cx="260.0" cy="43.5" r="1.70"/>
<circle cx="244.2" cy="43.8" r="1.70"/>
<circle cx="267.5" cy="43.9" r="1.70"/>
<circle cx="252.1" cy="44.1" r="1.70"/>
<circle cx="236.2" cy="44.3" r="1.70"/>
<circle cx="261.5" cy="44.7" r="1.70"/>
<circle cx="250.6" cy="44.9" r="1.70"/>
<circle cx="271.0" cy="45.2" r="1.70"/>
<circle cx="255.5" cy="45.4" r="1.70"/>
<circle cx="244.3" cy="45.8" r="1.70"/>
<circle cx="263.2" cy="45.9" r="1.70"/>
<circle cx="251.5" cy="46.4" r="1.70"/>
<circle cx="239.3" cy="46.5" r="1.70"/>
<circle cx="262.1" cy="46.8" r="1.70"/>
<circle cx="246.2" cy="47.2" r="1.70"/>
<circle cx="267.7" cy="47.3" r="1.70"/>
<circle cx="257.0" cy="47.5" r="1.70"/>
<circle cx="243.8" cy="47.9" r="1.70"/>
<circle cx="262.8" cy="48.1" r="1.70"/>
<circle cx="250.7" cy="48.5" r="1.70"/>
<circle cx="238.0" cy="48.8" r="1.70"/>
<circle cx="256.9" cy="49.1" r="1.70"/>
<circle cx="244.8" cy="49.3" r="1.70"/>
<circle cx="265.5" cy="49.8" r="1.70"/>
<circle cx="254.6" cy="49.9" r="1.70"/>
<circle cx="241.9" cy="50.5" r="1.70"/>
<circle cx="261.1" cy="50.6" r="1.70"/>
<circle cx="247.1" cy="51.0" r="1.70"/>
<circle cx="263.6" cy="51.3" r="1.70"/>
<circle cx="255.2" cy="51.9" r="1.70"/>
<circle cx="245.3" cy="52.3" r="1.70"/>
<circle cx="259.9" cy="52.7" r="1.70"/>
<circle cx="253.4" cy="52.8" r="1.70"/>
<circle cx="242.4" cy="53.3" r="1.70"/>
<circle cx="255.7" cy="53.8" r="1.70"/>
<circle cx="248.0" cy="54.1" r="1.70"/>
<circle cx="261.8" cy="54.9" r="1.70"/>
<circle cx="252.8" cy="55.0" r="1.70"/>
<circle cx="244.9" cy="55.7" r="1.70"/>
<circle cx="258.1" cy="56.3" r="1.70"/>
<circle cx="250.7" cy="56.9" r="1.70"/>
<circle cx="261.2" cy="57.0" r="1.70"/>
<circle cx="255.1" cy="57.7" r="1.70"/>
<circle cx="249.3" cy="58.4" r="1.70"/>
<circle cx="258.8" cy="58.6" r="1.70"/>
<circle cx="253.0" cy="59.4" r="1.70"/>
<circle cx="248.0" cy="60.5" r="1.70"/>
<circle cx="256.5" cy="60.6" r="1.70"/>
<circle cx="252.0" cy="61.6" r="1.70"/>
<circle cx="257.5" cy="62.4" r="1.70"/>
<circle cx="253.5" cy="63.4" r="1.70"/>
<circle cx="250.9" cy="64.1" r="1.70"/>
<circle cx="255.4" cy="64.8" r="1.70"/>
<circle cx="252.8" cy="66.7" r="1.70"/>
<circle cx="250.4" cy="67.5" r="1.70"/>
<circle cx="254.2" cy="68.7" r="1.70"/>
<circle cx="252.4" cy="69.3" r="1.70"/>
<circle cx="255.2" cy="70.8" r="1.70"/>
<circle cx="253.0" cy="72.6" r="1.70"/>
<circle cx="251.6" cy="73.4" r="1.70"/>
<circle cx="254.2" cy="74.8" r="1.70"/>
<circle cx="252.7" cy="76.6" r="1.70"/>
<circle cx="254.8" cy="77.2" r="1.70"/>
<circle cx="253.4" cy="78.7" r="1.70"/>
<circle cx="252.6" cy="81.9" r="1.70"/>
<circle cx="253.9" cy="83.3" r="1.70"/>
<circle cx="253.0" cy="84.5" r="1.70"/>
<circle cx="252.9" cy="97.5" r="1.70"/>
<circle cx="253.0" cy="99.5" r="1.70"/>
<circle cx="252.8" cy="109.4" r="1.70"/>
<circle cx="253.2" cy="122.6" r="1.70"/>
<circle cx="252.7" cy="126.2" r="1.70"/>
<circle cx="252.7" cy="133.2" r="1.70"/>
<circle cx="252.7" cy="141.8" r="1.70"/>
<circle cx="252.7" cy="175.3" r="1.70"/>
<circle cx="253.4" cy="181.6" r="1.70"/>
</g>
<g fill="#4DBEEE">
<circle cx="311.2" cy="22.7" r="1.70"/>
<circle cx="305.0" cy="23.4" r="1.70"/>
<circle cx="315.9" cy="23.7" r="1.70"/>
<circle cx="308.0" cy="23.9" r="1.70"/>
<circle cx="320.9" cy="24.0" r="1.70"/>
<circle cx="315.0" cy="24.3" r="1.70"/>
<circle cx="303.4" cy="24.5" r="1.70"/>
<circle cx="320.5" cy="24.5" r="1.70"/>
<circle cx="310.1" cy="24.7" r="1.70"/>
<circle cx="295.9" cy="24.9" r="1.70"/>
<circle cx="316.9" cy="25.1" r="1.70"/>
<circle cx="302.1" cy="25.2" r="1.70"/>
<circle cx="327.7" cy="25.4" r="1.70"/>
<circle cx="312.9" cy="25.4" r="1.70"/>
<circle cx="296.9" cy="25.6" r="1.70"/>
<circle cx="319.3" cy="25.7" r="1.70"/>
<circle cx="307.2" cy="25.8" r="1.70"/>
<circle cx="288.9" cy="26.0" r="1.70"/>
<circle cx="317.3" cy="26.1" r="1.70"/>
<circle cx="300.3" cy="26.2" r="1.70"/>
<circle cx="330.4" cy="26.3" r="1.70"/>
<circle cx="307.7" cy="26.4" r="1.70"/>
<circle cx="292.7" cy="26.5" r="1.70"/>
<circle cx="324.4" cy="26.6" r="1.70"/>
<circle cx="305.3" cy="26.7" r="1.70"/>
<circle cx="330.4" cy="26.8" r="1.70"/>
<circle cx="316.0" cy="26.9" r="1.70"/>
<circle cx="300.4" cy="27.0" r="1.70"/>
<circle cx="324.5" cy="27.1" r="1.70"/>
<circle cx="310.3" cy="27.2" r="1.70"/>
<circle cx="287.7" cy="27.3" r="1.70"/>
<circle cx="322.2" cy="27.4" r="1.70"/>
<circle cx="300.6" cy="27.6" r="1.70"/>
<circle cx="327.7" cy="27.7" r="1.70"/>
<circle cx="314.3" cy="27.8" r="1.70"/>
<circle cx="294.9" cy="27.8" r="1.70"/>
<circle cx="326.3" cy="28.0" r="1.70"/>
<circle cx="307.3" cy="28.1" r="1.70"/>
<circle cx="334.8" cy="28.2" r="1.70"/>
<circle cx="316.2" cy="28.3" r="1.70"/>
<circle cx="301.5" cy="28.4" r="1.70"/>
<circle cx="324.2" cy="28.5" r="1.70"/>
<circle cx="312.0" cy="28.5" r="1.70"/>
<circle cx="292.2" cy="28.7" r="1.70"/>
<circle cx="318.6" cy="28.8" r="1.70"/>
<circle cx="304.4" cy="28.8" r="1.70"/>
<circle cx="331.9" cy="29.0" r="1.70"/>
<circle cx="313.8" cy="29.1" r="1.70"/>
<circle cx="297.5" cy="29.2" r="1.70"/>
<circle cx="322.8" cy="29.3" r="1.70"/>
<circle cx="304.6" cy="29.4" r="1.70"/>
<circle cx="288.6" cy="29.4" r="1.70"/>
<circle cx="314.6" cy="29.6" r="1.70"/>
<circle cx="299.5" cy="29.7" r="1.70"/>
<circle cx="332.0" cy="29.8" r="1.70"/>
<circle cx="310.7" cy="29.9" r="1.70"/>
<circle cx="289.8" cy="30.0" r="1.70"/>
<circle cx="324.9" cy="30.1" r="1.70"/>
<circle cx="306.3" cy="30.2" r="1.70"/>
<circle cx="335.7" cy="30.3" r="1.70"/>
<circle cx="315.6" cy="30.4" r="1.70"/>
<circle cx="299.5" cy="30.5" r="1.70"/>
<circle cx="329.4" cy="30.6" r="1.70"/>
<circle cx="305.2" cy="30.7" r="1.70"/>
<circle cx="287.9" cy="30.8" r="1.70"/>
<circle cx="316.6" cy="30.9" r="1.70"/>
<circle cx="297.0" cy="31.0" r="1.70"/>
<circle cx="330.3" cy="31.0" r="1.70"/>
<circle cx="315.4" cy="31.1" r="1.70"/>
<circle cx="296.1" cy="31.2" r="1.70"/>
<circle cx="321.2" cy="31.4" r="1.70"/>
<circle cx="302.6" cy="31.5" r="1.70"/>
<circle cx="285.8" cy="31.6" r="1.70"/>
<circle cx="319.8" cy="31.6" r="1.70"/>
<circle cx="298.8" cy="31.8" r="1.70"/>
<circle cx="332.1" cy="31.8" r="1.70"/>
<circle cx="306.3" cy="32.0" r="1.70"/>
<circle cx="294.4" cy="32.0" r="1.70"/>
<circle cx="319.2" cy="32.2" r="1.70"/>
<circle cx="303.4" cy="32.2" r="1.70"/>
<circle cx="336.0" cy="32.3" r="1.70"/>
<circle cx="316.1" cy="32.5" r="1.70"/>
<circle cx="292.5" cy="32.5" r="1.70"/>
<circle cx="327.5" cy="32.6" r="1.70"/>
<circle cx="306.3" cy="32.7" r="1.70"/>
<circle cx="285.8" cy="32.8" r="1.70"/>
<circle cx="317.4" cy="33.0" r="1.70"/>
<circle cx="298.2" cy="33.0" r="1.70"/>
<circle cx="331.5" cy="33.1" r="1.70"/>
<circle cx="309.7" cy="33.2" r="1.70"/>
<circle cx="293.3" cy="33.3" r="1.70"/>
<circle cx="324.6" cy="33.5" r="1.70"/>
<circle cx="301.7" cy="33.5" r="1.70"/>
<circle cx="331.7" cy="33.7" r="1.70"/>
<circle cx="317.3" cy="33.7" r="1.70"/>
<circle cx="296.9" cy="33.8" r="1.70"/>
<circle cx="324.4" cy="34.0" r="1.70"/>
<circle cx="305.7" cy="34.0" r="1.70"/>
<circle cx="293.6" cy="34.1" r="1.70"/>
<circle cx="321.0" cy="34.3" r="1.70"/>
<circle cx="300.6" cy="34.4" r="1.70"/>
<circle cx="329.1" cy="34.5" r="1.70"/>
<circle cx="316.9" cy="34.6" r="1.70"/>
<circle cx="296.3" cy="34.8" r="1.70"/>
<circle cx="326.1" cy="34.9" r="1.70"/>
<circle cx="305.0" cy="35.0" r="1.70"/>
<circle cx="287.2" cy="35.1" r="1.70"/>
<circle cx="316.6" cy="35.2" r="1.70"/>
<circle cx="296.6" cy="35.3" r="1.70"/>
<circle cx="329.3" cy="35.4" r="1.70"/>
<circle cx="309.8" cy="35.5" r="1.70"/>
<circle cx="294.9" cy="35.6" r="1.70"/>
<circle cx="320.7" cy="35.8" r="1.70"/>
<circle cx="303.3" cy="35.9" r="1.70"/>
<circle cx="332.3" cy="36.0" r="1.70"/>
<circle cx="317.8" cy="36.2" r="1.70"/>
<circle cx="296.0" cy="36.3" r="1.70"/>
<circle cx="326.6" cy="36.4" r="1.70"/>
<circle cx="306.0" cy="36.5" r="1.70"/>
<circle cx="291.4" cy="36.6" r="1.70"/>
<circle cx="316.9" cy="36.9" r="1.70"/>
<circle cx="304.2" cy="36.9" r="1.70"/>
<circle cx="327.0" cy="37.1" r="1.70"/>
<circle cx="314.3" cy="37.4" r="1.70"/>
<circle cx="297.0" cy="37.7" r="1.70"/>
<circle cx="321.4" cy="37.9" r="1.70"/>
<circle cx="308.7" cy="38.1" r="1.70"/>
<circle cx="330.1" cy="38.4" r="1.70"/>
<circle cx="316.9" cy="38.7" r="1.70"/>
<circle cx="301.1" cy="39.0" r="1.70"/>
<circle cx="323.9" cy="39.3" r="1.70"/>
<circle cx="307.0" cy="39.3" r="1.70"/>
<circle cx="295.1" cy="39.8" r="1.70"/>
<circle cx="317.1" cy="40.0" r="1.70"/>
<circle cx="304.1" cy="40.3" r="1.70"/>
<circle cx="328.7" cy="40.5" r="1.70"/>
<circle cx="311.8" cy="41.0" r="1.70"/>
<circle cx="300.7" cy="41.0" r="1.70"/>
<circle cx="321.7" cy="41.5" r="1.70"/>
<circle cx="306.6" cy="41.7" r="1.70"/>
<circle cx="295.1" cy="42.1" r="1.70"/>
<circle cx="313.8" cy="42.4" r="1.70"/>
<circle cx="305.6" cy="42.8" r="1.70"/>
<circle cx="321.3" cy="43.2" r="1.70"/>
<circle cx="310.6" cy="43.4" r="1.70"/>
<circle cx="299.3" cy="43.9" r="1.70"/>
<circle cx="319.0" cy="44.1" r="1.70"/>
<circle cx="308.5" cy="44.5" r="1.70"/>
<circle cx="323.5" cy="45.1" r="1.70"/>
<circle cx="313.4" cy="45.3" r="1.70"/>
<circle cx="302.2" cy="45.6" r="1.70"/>
<circle cx="320.1" cy="46.2" r="1.70"/>
<circle cx="308.2" cy="46.8" r="1.70"/>
<circle cx="300.7" cy="47.0" r="1.70"/>
<circle cx="314.4" cy="47.7" r="1.70"/>
<circle cx="307.5" cy="48.1" r="1.70"/>
<circle cx="319.9" cy="48.7" r="1.70"/>
<circle cx="311.1" cy="49.0" r="1.70"/>
<circle cx="305.4" cy="49.5" r="1.70"/>
<circle cx="317.3" cy="50.0" r="1.70"/>
<circle cx="307.7" cy="50.7" r="1.70"/>
<circle cx="303.2" cy="51.4" r="1.70"/>
<circle cx="312.8" cy="51.8" r="1.70"/>
<circle cx="306.9" cy="52.8" r="1.70"/>
<circle cx="315.6" cy="53.5" r="1.70"/>
<circle cx="310.3" cy="54.3" r="1.70"/>
<circle cx="307.2" cy="55.4" r="1.70"/>
<circle cx="312.8" cy="57.1" r="1.70"/>
<circle cx="310.2" cy="57.4" r="1.70"/>
<circle cx="314.2" cy="59.8" r="1.70"/>
<circle cx="311.8" cy="60.2" r="1.70"/>
<circle cx="308.9" cy="61.3" r="1.70"/>
<circle cx="313.1" cy="61.5" r="1.70"/>
<circle cx="310.6" cy="63.0" r="1.70"/>
<circle cx="308.5" cy="63.3" r="1.70"/>
<circle cx="312.2" cy="64.6" r="1.70"/>
<circle cx="309.4" cy="64.8" r="1.70"/>
<circle cx="312.7" cy="65.9" r="1.70"/>
<circle cx="310.9" cy="67.3" r="1.70"/>
<circle cx="309.7" cy="67.9" r="1.70"/>
<circle cx="311.4" cy="69.5" r="1.70"/>
<circle cx="310.8" cy="72.9" r="1.70"/>
<circle cx="311.2" cy="77.5" r="1.70"/>
<circle cx="310.9" cy="78.3" r="1.70"/>
<circle cx="310.6" cy="79.8" r="1.70"/>
<circle cx="311.2" cy="81.7" r="1.70"/>
<circle cx="310.9" cy="84.4" r="1.70"/>
<circle cx="310.4" cy="84.6" r="1.70"/>
<circle cx="311.0" cy="87.1" r="1.70"/>
<circle cx="310.7" cy="88.3" r="1.70"/>
<circle cx="311.3" cy="90.3" r="1.70"/>
<circle cx="311.0" cy="91.3" r="1.70"/>
<circle cx="310.7" cy="94.8" r="1.70"/>
<circle cx="311.3" cy="103.0" r="1.70"/>
<circle cx="311.2" cy="106.0" r="1.70"/>
<circle cx="311.2" cy="120.1" r="1.70"/>
<circle cx="310.4" cy="131.5" r="1.70"/>
<circle cx="310.8" cy="136.3" r="1.70"/>
<circle cx="310.3" cy="145.1" r="1.70"/>
<circle cx="311.3" cy="175.3" r="1.70"/>
</g>
<g fill="#D95319">
<circle cx="379.0" cy="22.7" r="1.70"/>
<circle cx="369.2" cy="22.9" r="1.70"/>
<circle cx="358.5" cy="22.9" r="1.70"/>
<circle cx="378.6" cy="23.1" r="1.70"/>
<circle cx="366.4" cy="23.3" r="1.70"/>
<circle cx="352.7" cy="23.4" r="1.70"/>
<circle cx="371.3" cy="23.5" r="1.70"/>
<circle cx="362.6" cy="23.7" r="1.70"/>
<circle cx="381.3" cy="23.8" r="1.70"/>
<circle cx="370.1" cy="23.9" r="1.70"/>
<circle cx="354.8" cy="24.0" r="1.70"/>
<circle cx="378.3" cy="24.2" r="1.70"/>
<circle cx="363.8" cy="24.3" r="1.70"/>
<circle cx="387.6" cy="24.4" r="1.70"/>
<circle cx="375.0" cy="24.6" r="1.70"/>
<circle cx="357.0" cy="24.6" r="1.70"/>
<circle cx="382.2" cy="24.8" r="1.70"/>
<circle cx="364.9" cy="24.9" r="1.70"/>
<circle cx="352.2" cy="25.0" r="1.70"/>
<circle cx="373.9" cy="25.1" r="1.70"/>
<circle cx="359.0" cy="25.2" r="1.70"/>
<circle cx="389.2" cy="25.3" r="1.70"/>
<circle cx="367.2" cy="25.4" r="1.70"/>
<circle cx="355.2" cy="25.5" r="1.70"/>
<circle cx="381.3" cy="25.7" r="1.70"/>
<circle cx="364.4" cy="25.7" r="1.70"/>
<circle cx="346.4" cy="25.9" r="1.70"/>
<circle cx="372.0" cy="25.9" r="1.70"/>
<circle cx="360.7" cy="26.1" r="1.70"/>
<circle cx="387.1" cy="26.1" r="1.70"/>
<circle cx="370.2" cy="26.2" r="1.70"/>
<circle cx="347.7" cy="26.4" r="1.70"/>
<circle cx="380.9" cy="26.5" r="1.70"/>
<circle cx="359.2" cy="26.6" r="1.70"/>
<circle cx="387.5" cy="26.6" r="1.70"/>
<circle cx="372.4" cy="26.7" r="1.70"/>
<circle cx="355.2" cy="26.8" r="1.70"/>
<circle cx="380.4" cy="27.0" r="1.70"/>
<circle cx="367.3" cy="27.0" r="1.70"/>
<circle cx="347.9" cy="27.1" r="1.70"/>
<circle cx="379.6" cy="27.2" r="1.70"/>
<circle cx="361.6" cy="27.3" r="1.70"/>
<circle cx="389.3" cy="27.4" r="1.70"/>
<circle cx="368.6" cy="27.5" r="1.70"/>
<circle cx="354.6" cy="27.6" r="1.70"/>
<circle cx="382.8" cy="27.7" r="1.70"/>
<circle cx="360.9" cy="27.8" r="1.70"/>
<circle cx="393.2" cy="27.9" r="1.70"/>
<circle cx="375.9" cy="27.9" r="1.70"/>
<circle cx="353.3" cy="28.0" r="1.70"/>
<circle cx="383.9" cy="28.1" r="1.70"/>
<circle cx="363.0" cy="28.2" r="1.70"/>
<circle cx="348.0" cy="28.3" r="1.70"/>
<circle cx="376.8" cy="28.5" r="1.70"/>
<circle cx="357.8" cy="28.5" r="1.70"/>
<circle cx="388.7" cy="28.6" r="1.70"/>
<circle cx="368.4" cy="28.7" r="1.70"/>
<circle cx="352.0" cy="28.8" r="1.70"/>
<circle cx="381.5" cy="28.9" r="1.70"/>
<circle cx="362.3" cy="29.0" r="1.70"/>
<circle cx="343.4" cy="29.0" r="1.70"/>
<circle cx="376.0" cy="29.2" r="1.70"/>
<circle cx="359.7" cy="29.2" r="1.70"/>
<circle cx="385.1" cy="29.3" r="1.70"/>
<circle cx="371.5" cy="29.4" r="1.70"/>
<circle cx="352.2" cy="29.5" r="1.70"/>
<circle cx="381.4" cy="29.6" r="1.70"/>
<circle cx="361.6" cy="29.7" r="1.70"/>
<circle cx="393.8" cy="29.8" r="1.70"/>
<circle cx="373.4" cy="29.8" r="1.70"/>
<circle cx="355.2" cy="29.9" r="1.70"/>
<circle cx="388.4" cy="30.0" r="1.70"/>
<circle cx="368.0" cy="30.1" r="1.70"/>
<circle cx="344.6" cy="30.2" r="1.70"/>
<circle cx="374.1" cy="30.3" r="1.70"/>
<circle cx="362.0" cy="30.4" r="1.70"/>
<circle cx="388.5" cy="30.5" r="1.70"/>
<circle cx="372.6" cy="30.6" r="1.70"/>
<circle cx="348.9" cy="30.6" r="1.70"/>
<circle cx="381.8" cy="30.7" r="1.70"/>
<circle cx="361.9" cy="30.8" r="1.70"/>
<circle cx="345.6" cy="30.9" r="1.70"/>
<circle cx="378.4" cy="31.0" r="1.70"/>
<circle cx="355.7" cy="31.1" r="1.70"/>
<circle cx="387.3" cy="31.2" r="1.70"/>
<circle cx="366.3" cy="31.3" r="1.70"/>
<circle cx="346.1" cy="31.3" r="1.70"/>
<circle cx="383.0" cy="31.5" r="1.70"/>
<circle cx="357.0" cy="31.6" r="1.70"/>
<circle cx="393.8" cy="31.6" r="1.70"/>
<circle cx="373.3" cy="31.7" r="1.70"/>
<circle cx="349.4" cy="31.9" r="1.70"/>
<circle cx="387.1" cy="31.9" r="1.70"/>
<circle cx="361.5" cy="32.0" r="1.70"/>
<circle cx="346.2" cy="32.1" r="1.70"/>
<circle cx="373.5" cy="32.2" r="1.70"/>
<circle cx="361.4" cy="32.3" r="1.70"/>
<circle cx="386.6" cy="32.4" r="1.70"/>
<circle cx="372.2" cy="32.4" r="1.70"/>
<circle cx="347.0" cy="32.6" r="1.70"/>
<circle cx="382.1" cy="32.7" r="1.70"/>
<circle cx="358.7" cy="32.8" r="1.70"/>
<circle cx="388.6" cy="32.9" r="1.70"/>
<circle cx="374.2" cy="33.0" r="1.70"/>
<circle cx="358.9" cy="33.1" r="1.70"/>
<circle cx="386.4" cy="33.2" r="1.70"/>
<circle cx="369.3" cy="33.4" r="1.70"/>
<circle cx="350.5" cy="33.5" r="1.70"/>
<circle cx="377.9" cy="33.7" r="1.70"/>
<circle cx="356.5" cy="33.8" r="1.70"/>
<circle cx="389.1" cy="33.9" r="1.70"/>
<circle cx="368.5" cy="34.1" r="1.70"/>
<circle cx="353.1" cy="34.1" r="1.70"/>
<circle cx="380.7" cy="34.3" r="1.70"/>
<circle cx="364.0" cy="34.5" r="1.70"/>
<circle cx="345.5" cy="34.5" r="1.70"/>
<circle cx="376.4" cy="34.6" r="1.70"/>
<circle cx="356.8" cy="34.8" r="1.70"/>
<circle cx="385.5" cy="35.0" r="1.70"/>
<circle cx="365.2" cy="35.1" r="1.70"/>
<circle cx="350.9" cy="35.1" r="1.70"/>
<circle cx="379.1" cy="35.4" r="1.70"/>
<circle cx="365.1" cy="35.4" r="1.70"/>
<circle cx="389.4" cy="35.6" r="1.70"/>
<circle cx="369.6" cy="35.7" r="1.70"/>
<circle cx="354.3" cy="35.9" r="1.70"/>
<circle cx="381.1" cy="36.0" r="1.70"/>
<circle cx="367.2" cy="36.1" r="1.70"/>
<circle cx="352.9" cy="36.4" r="1.70"/>
<circle cx="378.9" cy="36.5" r="1.70"/>
<circle cx="362.9" cy="36.6" r="1.70"/>
<circle cx="388.1" cy="36.7" r="1.70"/>
<circle cx="371.9" cy="37.0" r="1.70"/>
<circle cx="357.2" cy="37.1" r="1.70"/>
<circle cx="375.8" cy="37.5" r="1.70"/>
<circle cx="364.0" cy="37.8" r="1.70"/>
<circle cx="387.2" cy="38.0" r="1.70"/>
<circle cx="374.0" cy="38.1" r="1.70"/>
<circle cx="359.7" cy="38.5" r="1.70"/>
<circle cx="381.8" cy="38.7" r="1.70"/>
<circle cx="370.0" cy="39.1" r="1.70"/>
<circle cx="352.2" cy="39.2" r="1.70"/>
<circle cx="375.6" cy="39.6" r="1.70"/>
<circle cx="365.2" cy="39.8" r="1.70"/>
<circle cx="380.6" cy="40.0" r="1.70"/>
<circle cx="368.5" cy="40.4" r="1.70"/>
<circle cx="360.5" cy="40.8" r="1.70"/>
<circle cx="379.9" cy="41.0" r="1.70"/>
<circle cx="363.8" cy="41.3" r="1.70"/>
<circle cx="354.3" cy="41.9" r="1.70"/>
<circle cx="374.3" cy="42.1" r="1.70"/>
<circle cx="363.1" cy="42.5" r="1.70"/>
<circle cx="379.1" cy="42.7" r="1.70"/>
<circle cx="369.1" cy="43.0" r="1.70"/>
<circle cx="360.1" cy="43.5" r="1.70"/>
<circle cx="375.5" cy="44.1" r="1.70"/>
<circle cx="363.5" cy="44.4" r="1.70"/>
<circle cx="377.6" cy="45.0" r="1.70"/>
<circle cx="371.7" cy="45.1" r="1.70"/>
<circle cx="364.2" cy="45.7" r="1.70"/>
<circle cx="376.3" cy="46.2" r="1.70"/>
<circle cx="367.3" cy="46.8" r="1.70"/>
<circle cx="359.9" cy="47.0" r="1.70"/>
<circle cx="371.4" cy="47.9" r="1.70"/>
<circle cx="364.0" cy="48.3" r="1.70"/>
<circle cx="376.2" cy="48.6" r="1.70"/>
<circle cx="368.6" cy="49.5" r="1.70"/>
<circle cx="364.2" cy="50.1" r="1.70"/>
<circle cx="371.7" cy="51.2" r="1.70"/>
<circle cx="367.4" cy="52.4" r="1.70"/>
<circle cx="364.7" cy="53.0" r="1.70"/>
<circle cx="369.4" cy="54.2" r="1.70"/>
<circle cx="366.8" cy="54.8" r="1.70"/>
<circle cx="371.0" cy="56.3" r="1.70"/>
<circle cx="368.2" cy="56.6" r="1.70"/>
<circle cx="365.7" cy="58.3" r="1.70"/>
<circle cx="369.7" cy="58.7" r="1.70"/>
<circle cx="367.5" cy="60.0" r="1.70"/>
<circle cx="372.0" cy="60.5" r="1.70"/>
<circle cx="368.9" cy="61.5" r="1.70"/>
<circle cx="366.2" cy="62.3" r="1.70"/>
<circle cx="370.4" cy="63.4" r="1.70"/>
<circle cx="368.2" cy="65.2" r="1.70"/>
<circle cx="367.5" cy="66.4" r="1.70"/>
<circle cx="368.8" cy="67.2" r="1.70"/>
<circle cx="368.4" cy="68.8" r="1.70"/>
<circle cx="369.0" cy="71.1" r="1.70"/>
<circle cx="368.6" cy="72.0" r="1.70"/>
<circle cx="368.1" cy="74.2" r="1.70"/>
<circle cx="368.8" cy="75.9" r="1.70"/>
<circle cx="368.6" cy="80.6" r="1.70"/>
<circle cx="368.8" cy="88.7" r="1.70"/>
<circle cx="368.9" cy="94.7" r="1.70"/>
<circle cx="368.6" cy="97.0" r="1.70"/>
<circle cx="368.1" cy="106.0" r="1.70"/>
<circle cx="368.9" cy="122.4" r="1.70"/>
<circle cx="368.3" cy="134.5" r="1.70"/>
<circle cx="368.2" cy="138.0" r="1.70"/>
<circle cx="368.5" cy="149.4" r="1.70"/>
<circle cx="369.2" cy="178.4" r="1.70"/>
</g>
<g fill="#77AC30">
<circle cx="430.8" cy="22.5" r="1.70"/>
<circle cx="423.6" cy="22.7" r="1.70"/>
<circle cx="441.7" cy="22.9" r="1.70"/>
<circle cx="427.4" cy="23.0" r="1.70"/>
<circle cx="416.4" cy="23.1" r="1.70"/>
<circle cx="439.5" cy="23.2" r="1.70"/>
<circle cx="426.8" cy="23.4" r="1.70"/>
<circle cx="409.8" cy="23.5" r="1.70"/>
<circle cx="430.6" cy="23.5" r="1.70"/>
<circle cx="419.3" cy="23.7" r="1.70"/>
<circle cx="439.8" cy="23.8" r="1.70"/>
<circle cx="429.7" cy="23.9" r="1.70"/>
<circle cx="413.3" cy="24.0" r="1.70"/>
<circle cx="439.2" cy="24.1" r="1.70"/>
<circle cx="423.7" cy="24.2" r="1.70"/>
<circle cx="447.9" cy="24.3" r="1.70"/>
<circle cx="434.4" cy="24.3" r="1.70"/>
<circle cx="415.5" cy="24.5" r="1.70"/>
<circle cx="441.9" cy="24.6" r="1.70"/>
<circle cx="424.1" cy="24.6" r="1.70"/>
<circle cx="406.3" cy="24.8" r="1.70"/>
<circle cx="432.3" cy="24.8" r="1.70"/>
<circle cx="415.6" cy="24.9" r="1.70"/>
<circle cx="449.3" cy="25.1" r="1.70"/>
<circle cx="427.1" cy="25.2" r="1.70"/>
<circle cx="412.2" cy="25.3" r="1.70"/>
<circle cx="442.4" cy="25.3" r="1.70"/>
<circle cx="423.7" cy="25.5" r="1.70"/>
<circle cx="404.2" cy="25.5" r="1.70"/>
<circle cx="432.0" cy="25.6" r="1.70"/>
<circle cx="413.5" cy="25.7" r="1.70"/>
<circle cx="442.3" cy="25.7" r="1.70"/>
<circle cx="427.6" cy="25.8" r="1.70"/>
<circle cx="409.6" cy="26.0" r="1.70"/>
<circle cx="441.2" cy="26.1" r="1.70"/>
<circle cx="418.2" cy="26.2" r="1.70"/>
<circle cx="450.4" cy="26.3" r="1.70"/>
<circle cx="434.0" cy="26.3" r="1.70"/>
<circle cx="410.8" cy="26.4" r="1.70"/>
<circle cx="445.8" cy="26.5" r="1.70"/>
<circle cx="424.7" cy="26.6" r="1.70"/>
<circle cx="408.8" cy="26.7" r="1.70"/>
<circle cx="437.4" cy="26.7" r="1.70"/>
<circle cx="415.4" cy="26.8" r="1.70"/>
<circle cx="445.1" cy="26.9" r="1.70"/>
<circle cx="428.4" cy="27.0" r="1.70"/>
<circle cx="409.3" cy="27.1" r="1.70"/>
<circle cx="436.1" cy="27.2" r="1.70"/>
<circle cx="423.9" cy="27.3" r="1.70"/>
<circle cx="402.4" cy="27.4" r="1.70"/>
<circle cx="432.4" cy="27.5" r="1.70"/>
<circle cx="415.7" cy="27.6" r="1.70"/>
<circle cx="442.4" cy="27.7" r="1.70"/>
<circle cx="423.0" cy="27.7" r="1.70"/>
<circle cx="407.0" cy="27.8" r="1.70"/>
<circle cx="435.1" cy="27.9" r="1.70"/>
<circle cx="416.8" cy="28.0" r="1.70"/>
<circle cx="445.6" cy="28.0" r="1.70"/>
<circle cx="426.4" cy="28.1" r="1.70"/>
<circle cx="409.6" cy="28.3" r="1.70"/>
<circle cx="442.1" cy="28.4" r="1.70"/>
<circle cx="426.2" cy="28.4" r="1.70"/>
<circle cx="404.5" cy="28.5" r="1.70"/>
<circle cx="433.8" cy="28.6" r="1.70"/>
<circle cx="414.6" cy="28.7" r="1.70"/>
<circle cx="444.2" cy="28.7" r="1.70"/>
<circle cx="426.9" cy="28.9" r="1.70"/>
<circle cx="411.8" cy="29.0" r="1.70"/>
<circle cx="435.9" cy="29.0" r="1.70"/>
<circle cx="419.4" cy="29.1" r="1.70"/>
<circle cx="451.1" cy="29.2" r="1.70"/>
<circle cx="433.7" cy="29.3" r="1.70"/>
<circle cx="413.1" cy="29.3" r="1.70"/>
<circle cx="444.4" cy="29.5" r="1.70"/>
<circle cx="427.9" cy="29.6" r="1.70"/>
<circle cx="408.7" cy="29.6" r="1.70"/>
<circle cx="434.1" cy="29.7" r="1.70"/>
<circle cx="417.6" cy="29.8" r="1.70"/>
<circle cx="450.8" cy="29.8" r="1.70"/>
<circle cx="429.0" cy="29.9" r="1.70"/>
<circle cx="407.7" cy="30.0" r="1.70"/>
<circle cx="442.4" cy="30.2" r="1.70"/>
<circle cx="418.2" cy="30.2" r="1.70"/>
<circle cx="401.9" cy="30.3" r="1.70"/>
<circle cx="433.6" cy="30.4" r="1.70"/>
<circle cx="412.9" cy="30.5" r="1.70"/>
<circle cx="446.3" cy="30.6" r="1.70"/>
<circle cx="427.9" cy="30.7" r="1.70"/>
<circle cx="406.3" cy="30.8" r="1.70"/>
<circle cx="439.5" cy="30.8" r="1.70"/>
<circle cx="420.2" cy="30.9" r="1.70"/>
<circle cx="450.3" cy="31.0" r="1.70"/>
<circle cx="430.1" cy="31.1" r="1.70"/>
<circle cx="411.6" cy="31.2" r="1.70"/>
<circle cx="438.7" cy="31.3" r="1.70"/>
<circle cx="423.3" cy="31.4" r="1.70"/>
<circle cx="408.7" cy="31.5" r="1.70"/>
<circle cx="437.6" cy="31.6" r="1.70"/>
<circle cx="413.2" cy="31.6" r="1.70"/>
<circle cx="442.6" cy="31.7" r="1.70"/>
<circle cx="426.0" cy="31.9" r="1.70"/>
<circle cx="411.2" cy="31.9" r="1.70"/>
<circle cx="438.4" cy="32.0" r="1.70"/>
<circle cx="418.1" cy="32.1" r="1.70"/>
<circle cx="402.9" cy="32.1" r="1.70"/>
<circle cx="432.5" cy="32.2" r="1.70"/>
<circle cx="416.0" cy="32.3" r="1.70"/>
<circle cx="442.1" cy="32.4" r="1.70"/>
<circle cx="426.2" cy="32.5" r="1.70"/>
<circle cx="408.8" cy="32.6" r="1.70"/>
<circle cx="436.8" cy="32.6" r="1.70"/>
<circle cx="415.1" cy="32.7" r="1.70"/>
<circle cx="448.3" cy="32.8" r="1.70"/>
<circle cx="426.5" cy="32.9" r="1.70"/>
<circle cx="408.6" cy="32.9" r="1.70"/>
<circle cx="439.8" cy="33.0" r="1.70"/>
<circle cx="419.1" cy="33.1" r="1.70"/>
<circle cx="403.7" cy="33.1" r="1.70"/>
<circle cx="432.5" cy="33.2" r="1.70"/>
<circle cx="415.9" cy="33.3" r="1.70"/>
<circle cx="441.0" cy="33.4" r="1.70"/>
<circle cx="429.9" cy="33.5" r="1.70"/>
<circle cx="412.2" cy="33.5" r="1.70"/>
<circle cx="437.1" cy="33.7" r="1.70"/>
<circle cx="420.9" cy="33.7" r="1.70"/>
<circle cx="446.2" cy="33.8" r="1.70"/>
<circle cx="434.1" cy="33.9" r="1.70"/>
<circle cx="411.2" cy="34.0" r="1.70"/>
<circle cx="439.6" cy="34.1" r="1.70"/>
<circle cx="422.3" cy="34.1" r="1.70"/>
<circle cx="410.2" cy="34.2" r="1.70"/>
<circle cx="434.6" cy="34.3" r="1.70"/>
<circle cx="417.3" cy="34.4" r="1.70"/>
<circle cx="443.9" cy="34.5" r="1.70"/>
<circle cx="430.8" cy="34.6" r="1.70"/>
<circle cx="410.1" cy="34.6" r="1.70"/>
<circle cx="440.3" cy="34.7" r="1.70"/>
<circle cx="423.4" cy="34.8" r="1.70"/>
<circle cx="405.4" cy="34.9" r="1.70"/>
<circle cx="431.0" cy="35.0" r="1.70"/>
<circle cx="415.4" cy="35.1" r="1.70"/>
<circle cx="441.5" cy="35.2" r="1.70"/>
<circle cx="424.6" cy="35.5" r="1.70"/>
<circle cx="410.9" cy="35.6" r="1.70"/>
<circle cx="434.8" cy="36.1" r="1.70"/>
<circle cx="418.7" cy="36.2" r="1.70"/>
<circle cx="446.0" cy="36.6" r="1.70"/>
<circle cx="429.1" cy="36.9" r="1.70"/>
<circle cx="414.4" cy="37.0" r="1.70"/>
<circle cx="440.5" cy="37.4" r="1.70"/>
<circle cx="423.5" cy="37.6" r="1.70"/>
<circle cx="408.8" cy="37.8" r="1.70"/>
<circle cx="434.8" cy="38.2" r="1.70"/>
<circle cx="421.4" cy="38.6" r="1.70"/>
<circle cx="442.2" cy="38.7" r="1.70"/>
<circle cx="426.5" cy="39.0" r="1.70"/>
<circle cx="414.9" cy="39.3" r="1.70"/>
<circle cx="436.2" cy="39.8" r="1.70"/>
<circle cx="421.2" cy="40.0" r="1.70"/>
<circle cx="442.4" cy="40.2" r="1.70"/>
<circle cx="432.1" cy="40.5" r="1.70"/>
<circle cx="418.7" cy="40.9" r="1.70"/>
<circle cx="437.4" cy="41.4" r="1.70"/>
<circle cx="425.0" cy="41.8" r="1.70"/>
<circle cx="415.4" cy="42.2" r="1.70"/>
<circle cx="430.6" cy="42.5" r="1.70"/>
<circle cx="422.7" cy="42.8" r="1.70"/>
<circle cx="437.7" cy="43.3" r="1.70"/>
<circle cx="429.6" cy="43.7" r="1.70"/>
<circle cx="418.0" cy="44.1" r="1.70"/>
<circle cx="433.7" cy="44.6" r="1.70"/>
<circle cx="422.5" cy="44.8" r="1.70"/>
<circle cx="416.2" cy="45.6" r="1.70"/>
<circle cx="430.1" cy="45.8" r="1.70"/>
<circle cx="421.0" cy="46.3" r="1.70"/>
<circle cx="433.2" cy="47.3" r="1.70"/>
<circle cx="425.5" cy="47.3" r="1.70"/>
<circle cx="420.3" cy="48.3" r="1.70"/>
<circle cx="430.7" cy="48.9" r="1.70"/>
<circle cx="423.9" cy="50.1" r="1.70"/>
<circle cx="431.9" cy="50.8" r="1.70"/>
<circle cx="426.5" cy="52.1" r="1.70"/>
<circle cx="424.6" cy="53.5" r="1.70"/>
<circle cx="428.1" cy="54.0" r="1.70"/>
<circle cx="426.3" cy="54.4" r="1.70"/>
<circle cx="425.8" cy="57.4" r="1.70"/>
<circle cx="426.4" cy="63.5" r="1.70"/>
<circle cx="426.5" cy="65.5" r="1.70"/>
<circle cx="426.6" cy="74.6" r="1.70"/>
<circle cx="426.6" cy="77.0" r="1.70"/>
<circle cx="426.4" cy="84.3" r="1.70"/>
<circle cx="426.0" cy="93.7" r="1.70"/>
<circle cx="426.5" cy="96.0" r="1.70"/>
<circle cx="426.3" cy="108.0" r="1.70"/>
<circle cx="426.3" cy="117.1" r="1.70"/>
<circle cx="426.9" cy="119.6" r="1.70"/>
<circle cx="425.8" cy="122.1" r="1.70"/>
<circle cx="426.6" cy="123.9" r="1.70"/>
<circle cx="426.1" cy="138.3" r="1.70"/>
<circle cx="426.5" cy="168.3" r="1.70"/>
</g>
<g fill="#0072BD">
<circle cx="477.8" cy="22.6" r="1.70"/>
<circle cx="492.5" cy="22.6" r="1.70"/>
<circle cx="485.9" cy="22.8" r="1.70"/>
<circle cx="468.7" cy="22.9" r="1.70"/>
<circle cx="496.4" cy="23.0" r="1.70"/>
<circle cx="479.1" cy="23.0" r="1.70"/>
<circle cx="500.6" cy="23.2" r="1.70"/>
<circle cx="488.9" cy="23.3" r="1.70"/>
<circle cx="471.1" cy="23.3" r="1.70"/>
<circle cx="499.8" cy="23.4" r="1.70"/>
<circle cx="483.6" cy="23.5" r="1.70"/>
<circle cx="467.9" cy="23.6" r="1.70"/>
<circle cx="489.0" cy="23.6" r="1.70"/>
<circle cx="472.7" cy="23.8" r="1.70"/>
<circle cx="504.3" cy="23.8" r="1.70"/>
<circle cx="483.4" cy="23.9" r="1.70"/>
<circle cx="467.2" cy="24.1" r="1.70"/>
<circle cx="493.0" cy="24.1" r="1.70"/>
<circle cx="477.1" cy="24.2" r="1.70"/>
<circle cx="462.3" cy="24.2" r="1.70"/>
<circle cx="493.4" cy="24.4" r="1.70"/>
<circle cx="471.5" cy="24.4" r="1.70"/>
<circle cx="499.2" cy="24.5" r="1.70"/>
<circle cx="485.9" cy="24.6" r="1.70"/>
<circle cx="463.4" cy="24.7" r="1.70"/>
<circle cx="495.5" cy="24.8" r="1.70"/>
<circle cx="477.5" cy="24.8" r="1.70"/>
<circle cx="507.6" cy="24.9" r="1.70"/>
<circle cx="484.3" cy="24.9" r="1.70"/>
<circle cx="470.0" cy="25.0" r="1.70"/>
<circle cx="498.2" cy="25.1" r="1.70"/>
<circle cx="483.3" cy="25.2" r="1.70"/>
<circle cx="460.5" cy="25.3" r="1.70"/>
<circle cx="493.8" cy="25.3" r="1.70"/>
<circle cx="471.3" cy="25.4" r="1.70"/>
<circle cx="503.5" cy="25.5" r="1.70"/>
<circle cx="488.8" cy="25.6" r="1.70"/>
<circle cx="464.6" cy="25.6" r="1.70"/>
<circle cx="494.8" cy="25.7" r="1.70"/>
<circle cx="481.3" cy="25.7" r="1.70"/>
<circle cx="508.2" cy="25.8" r="1.70"/>
<circle cx="486.1" cy="25.9" r="1.70"/>
<circle cx="468.5" cy="26.0" r="1.70"/>
<circle cx="499.0" cy="26.1" r="1.70"/>
<circle cx="480.8" cy="26.1" r="1.70"/>
<circle cx="466.5" cy="26.2" r="1.70"/>
<circle cx="495.5" cy="26.3" r="1.70"/>
<circle cx="479.0" cy="26.4" r="1.70"/>
<circle cx="506.9" cy="26.5" r="1.70"/>
<circle cx="487.8" cy="26.5" r="1.70"/>
<circle cx="467.2" cy="26.6" r="1.70"/>
<circle cx="500.2" cy="26.7" r="1.70"/>
<circle cx="479.6" cy="26.7" r="1.70"/>
<circle cx="459.3" cy="26.8" r="1.70"/>
<circle cx="491.2" cy="26.9" r="1.70"/>
<circle cx="471.5" cy="26.9" r="1.70"/>
<circle cx="503.2" cy="27.0" r="1.70"/>
<circle cx="480.5" cy="27.1" r="1.70"/>
<circle cx="461.5" cy="27.2" r="1.70"/>
<circle cx="499.6" cy="27.2" r="1.70"/>
<circle cx="475.8" cy="27.3" r="1.70"/>
<circle cx="506.2" cy="27.4" r="1.70"/>
<circle cx="485.8" cy="27.4" r="1.70"/>
<circle cx="470.3" cy="27.5" r="1.70"/>
<circle cx="503.7" cy="27.6" r="1.70"/>
<circle cx="478.8" cy="27.6" r="1.70"/>
<circle cx="462.2" cy="27.8" r="1.70"/>
<circle cx="493.1" cy="27.8" r="1.70"/>
<circle cx="476.1" cy="27.9" r="1.70"/>
<circle cx="505.5" cy="27.9" r="1.70"/>
<circle cx="483.7" cy="28.0" r="1.70"/>
<circle cx="464.2" cy="28.1" r="1.70"/>
<circle cx="499.5" cy="28.2" r="1.70"/>
<circle cx="475.1" cy="28.2" r="1.70"/>
<circle cx="462.2" cy="28.3" r="1.70"/>
<circle cx="486.6" cy="28.4" r="1.70"/>
<circle cx="468.6" cy="28.4" r="1.70"/>
<circle cx="502.1" cy="28.5" r="1.70"/>
<circle cx="485.8" cy="28.6" r="1.70"/>
<circle cx="464.7" cy="28.6" r="1.70"/>
<circle cx="497.0" cy="28.7" r="1.70"/>
<circle cx="477.8" cy="28.8" r="1.70"/>
<circle cx="508.8" cy="28.9" r="1.70"/>
<circle cx="484.0" cy="28.9" r="1.70"/>
<circle cx="470.9" cy="29.0" r="1.70"/>
<circle cx="496.7" cy="29.1" r="1.70"/>
<circle cx="477.4" cy="29.2" r="1.70"/>
<circle cx="458.5" cy="29.2" r="1.70"/>
<circle cx="488.4" cy="29.3" r="1.70"/>
<circle cx="475.8" cy="29.3" r="1.70"/>
<circle cx="503.3" cy="29.4" r="1.70"/>
<circle cx="481.4" cy="29.5" r="1.70"/>
<circle cx="461.5" cy="29.6" r="1.70"/>
<circle cx="499.7" cy="29.7" r="1.70"/>
<circle cx="478.1" cy="29.7" r="1.70"/>
<circle cx="509.6" cy="29.8" r="1.70"/>
<circle cx="485.6" cy="29.8" r="1.70"/>
<circle cx="466.6" cy="29.9" r="1.70"/>
<circle cx="499.8" cy="30.0" r="1.70"/>
<circle cx="479.4" cy="30.0" r="1.70"/>
<circle cx="459.1" cy="30.1" r="1.70"/>
<circle cx="491.6" cy="30.3" r="1.70"/>
<circle cx="475.5" cy="30.5" r="1.70"/>
<circle cx="503.6" cy="30.6" r="1.70"/>
<circle cx="483.8" cy="30.7" r="1.70"/>
<circle cx="467.1" cy="30.8" r="1.70"/>
<circle cx="497.8" cy="31.0" r="1.70"/>
<circle cx="476.1" cy="31.1" r="1.70"/>
<circle cx="459.6" cy="31.3" r="1.70"/>
<circle cx="491.4" cy="31.4" r="1.70"/>
<circle cx="470.4" cy="31.5" r="1.70"/>
<circle cx="503.5" cy="31.7" r="1.70"/>
<circle cx="479.8" cy="31.8" r="1.70"/>
<circle cx="464.7" cy="32.0" r="1.70"/>
<circle cx="493.4" cy="32.1" r="1.70"/>
<circle cx="474.7" cy="32.2" r="1.70"/>
<circle cx="504.2" cy="32.4" r="1.70"/>
<circle cx="491.6" cy="32.6" r="1.70"/>
<circle cx="469.3" cy="32.7" r="1.70"/>
<circle cx="499.6" cy="32.8" r="1.70"/>
<circle cx="481.2" cy="32.9" r="1.70"/>
<circle cx="464.8" cy="33.2" r="1.70"/>
<circle cx="489.9" cy="33.3" r="1.70"/>
<circle cx="472.4" cy="33.4" r="1.70"/>
<circle cx="506.7" cy="33.6" r="1.70"/>
<circle cx="484.4" cy="33.7" r="1.70"/>
<circle cx="467.7" cy="33.8" r="1.70"/>
<circle cx="500.7" cy="34.0" r="1.70"/>
<circle cx="474.3" cy="34.1" r="1.70"/>
<circle cx="458.7" cy="34.3" r="1.70"/>
<circle cx="488.3" cy="34.4" r="1.70"/>
<circle cx="473.1" cy="34.6" r="1.70"/>
<circle cx="502.9" cy="34.7" r="1.70"/>
<circle cx="484.2" cy="34.9" r="1.70"/>
<circle cx="469.2" cy="35.1" r="1.70"/>
<circle cx="490.8" cy="35.1" r="1.70"/>
<circle cx="476.1" cy="35.3" r="1.70"/>
<circle cx="503.5" cy="35.5" r="1.70"/>
<circle cx="487.9" cy="35.6" r="1.70"/>
<circle cx="471.1" cy="36.0" r="1.70"/>
<circle cx="496.3" cy="36.2" r="1.70"/>
<circle cx="482.6" cy="36.3" r="1.70"/>
<circle cx="471.6" cy="36.5" r="1.70"/>
<circle cx="487.6" cy="37.0" r="1.70"/>
<circle cx="478.2" cy="37.2" r="1.70"/>
<circle cx="496.5" cy="37.5" r="1.70"/>
<circle cx="485.9" cy="37.8" r="1.70"/>
<circle cx="474.5" cy="38.1" r="1.70"/>
<circle cx="491.9" cy="38.3" r="1.70"/>
<circle cx="482.5" cy="38.6" r="1.70"/>
<circle cx="496.6" cy="39.0" r="1.70"/>
<circle cx="487.0" cy="39.4" r="1.70"/>
<circle cx="478.9" cy="39.7" r="1.70"/>
<circle cx="490.6" cy="40.1" r="1.70"/>
<circle cx="482.5" cy="40.4" r="1.70"/>
<circle cx="474.2" cy="40.4" r="1.70"/>
<circle cx="486.9" cy="40.8" r="1.70"/>
<circle cx="480.8" cy="41.5" r="1.70"/>
<circle cx="491.1" cy="41.7" r="1.70"/>
<circle cx="485.2" cy="42.1" r="1.70"/>
<circle cx="477.3" cy="42.4" r="1.70"/>
<circle cx="487.7" cy="43.2" r="1.70"/>
<circle cx="482.8" cy="43.5" r="1.70"/>
<circle cx="478.7" cy="44.5" r="1.70"/>
<circle cx="485.3" cy="44.6" r="1.70"/>
<circle cx="482.5" cy="46.3" r="1.70"/>
<circle cx="487.5" cy="46.3" r="1.70"/>
<circle cx="483.6" cy="47.4" r="1.70"/>
<circle cx="481.0" cy="48.7" r="1.70"/>
<circle cx="485.9" cy="49.9" r="1.70"/>
<circle cx="482.4" cy="50.4" r="1.70"/>
<circle cx="488.0" cy="51.8" r="1.70"/>
<circle cx="484.2" cy="53.2" r="1.70"/>
<circle cx="482.1" cy="53.7" r="1.70"/>
<circle cx="485.3" cy="55.6" r="1.70"/>
<circle cx="483.3" cy="56.9" r="1.70"/>
<circle cx="481.7" cy="58.3" r="1.70"/>
<circle cx="484.4" cy="59.2" r="1.70"/>
<circle cx="482.9" cy="61.1" r="1.70"/>
<circle cx="485.6" cy="63.3" r="1.70"/>
<circle cx="484.4" cy="64.5" r="1.70"/>
<circle cx="482.5" cy="65.3" r="1.70"/>
<circle cx="484.8" cy="67.3" r="1.70"/>
<circle cx="483.6" cy="69.1" r="1.70"/>
<circle cx="485.8" cy="70.4" r="1.70"/>
<circle cx="484.4" cy="72.6" r="1.70"/>
<circle cx="483.1" cy="74.6" r="1.70"/>
<circle cx="485.3" cy="75.3" r="1.70"/>
<circle cx="484.1" cy="77.8" r="1.70"/>
<circle cx="483.9" cy="83.0" r="1.70"/>
<circle cx="483.8" cy="92.7" r="1.70"/>
<circle cx="483.8" cy="94.7" r="1.70"/>
<circle cx="483.7" cy="103.7" r="1.70"/>
<circle cx="484.3" cy="105.0" r="1.70"/>
<circle cx="483.9" cy="119.6" r="1.70"/>
<circle cx="484.2" cy="121.6" r="1.70"/>
<circle cx="483.6" cy="141.8" r="1.70"/>
<circle cx="484.3" cy="146.8" r="1.70"/>
<circle cx="484.5" cy="164.7" r="1.70"/>
<circle cx="483.6" cy="177.1" r="1.70"/>
</g>
<g fill="#7E2F8E">
<circle cx="544.3" cy="22.5" r="1.70"/>
<circle cx="537.7" cy="22.6" r="1.70"/>
<circle cx="551.8" cy="22.7" r="1.70"/>
<circle cx="539.9" cy="22.8" r="1.70"/>
<circle cx="524.8" cy="22.8" r="1.70"/>
<circle cx="548.3" cy="22.9" r="1.70"/>
<circle cx="537.9" cy="23.0" r="1.70"/>
<circle cx="561.0" cy="23.1" r="1.70"/>
<circle cx="542.3" cy="23.2" r="1.70"/>
<circle cx="529.8" cy="23.2" r="1.70"/>
<circle cx="555.5" cy="23.2" r="1.70"/>
<circle cx="538.3" cy="23.3" r="1.70"/>
<circle cx="521.2" cy="23.4" r="1.70"/>
<circle cx="548.7" cy="23.5" r="1.70"/>
<circle cx="532.4" cy="23.5" r="1.70"/>
<circle cx="562.4" cy="23.6" r="1.70"/>
<circle cx="542.3" cy="23.7" r="1.70"/>
<circle cx="529.8" cy="23.7" r="1.70"/>
<circle cx="555.9" cy="23.7" r="1.70"/>
<circle cx="537.5" cy="23.8" r="1.70"/>
<circle cx="520.0" cy="23.8" r="1.70"/>
<circle cx="549.4" cy="23.9" r="1.70"/>
<circle cx="527.6" cy="24.0" r="1.70"/>
<circle cx="558.2" cy="24.0" r="1.70"/>
<circle cx="537.9" cy="24.1" r="1.70"/>
<circle cx="520.7" cy="24.2" r="1.70"/>
<circle cx="550.8" cy="24.2" r="1.70"/>
<circle cx="531.6" cy="24.3" r="1.70"/>
<circle cx="564.7" cy="24.4" r="1.70"/>
<circle cx="545.5" cy="24.4" r="1.70"/>
<circle cx="530.2" cy="24.4" r="1.70"/>
<circle cx="559.5" cy="24.5" r="1.70"/>
<circle cx="540.1" cy="24.6" r="1.70"/>
<circle cx="521.1" cy="24.6" r="1.70"/>
<circle cx="549.2" cy="24.7" r="1.70"/>
<circle cx="533.2" cy="24.7" r="1.70"/>
<circle cx="562.2" cy="24.8" r="1.70"/>
<circle cx="539.8" cy="24.8" r="1.70"/>
<circle cx="524.0" cy="24.9" r="1.70"/>
<circle cx="553.3" cy="24.9" r="1.70"/>
<circle cx="535.4" cy="25.0" r="1.70"/>
<circle cx="566.4" cy="25.1" r="1.70"/>
<circle cx="548.4" cy="25.1" r="1.70"/>
<circle cx="528.6" cy="25.1" r="1.70"/>
<circle cx="560.8" cy="25.2" r="1.70"/>
<circle cx="542.3" cy="25.2" r="1.70"/>
<circle cx="517.6" cy="25.3" r="1.70"/>
<circle cx="548.5" cy="25.4" r="1.70"/>
<circle cx="528.9" cy="25.4" r="1.70"/>
<circle cx="560.4" cy="25.4" r="1.70"/>
<circle cx="547.8" cy="25.5" r="1.70"/>
<circle cx="523.7" cy="25.6" r="1.70"/>
<circle cx="555.4" cy="25.6" r="1.70"/>
<circle cx="536.6" cy="25.7" r="1.70"/>
<circle cx="518.5" cy="25.7" r="1.70"/>
<circle cx="546.9" cy="25.8" r="1.70"/>
<circle cx="531.9" cy="25.8" r="1.70"/>
<circle cx="559.0" cy="25.9" r="1.70"/>
<circle cx="544.1" cy="26.0" r="1.70"/>
<circle cx="524.8" cy="26.0" r="1.70"/>
<circle cx="549.1" cy="26.1" r="1.70"/>
<circle cx="534.5" cy="26.1" r="1.70"/>
<circle cx="561.6" cy="26.1" r="1.70"/>
<circle cx="548.9" cy="26.2" r="1.70"/>
<circle cx="523.4" cy="26.2" r="1.70"/>
<circle cx="555.8" cy="26.3" r="1.70"/>
<circle cx="540.7" cy="26.3" r="1.70"/>
<circle cx="520.3" cy="26.4" r="1.70"/>
<circle cx="551.7" cy="26.4" r="1.70"/>
<circle cx="530.6" cy="26.5" r="1.70"/>
<circle cx="562.3" cy="26.5" r="1.70"/>
<circle cx="540.7" cy="26.6" r="1.70"/>
<circle cx="523.7" cy="26.7" r="1.70"/>
<circle cx="552.9" cy="26.7" r="1.70"/>
<circle cx="537.2" cy="26.8" r="1.70"/>
<circle cx="516.7" cy="26.8" r="1.70"/>
<circle cx="544.7" cy="26.9" r="1.70"/>
<circle cx="526.1" cy="26.9" r="1.70"/>
<circle cx="559.7" cy="27.0" r="1.70"/>
<circle cx="541.0" cy="27.0" r="1.70"/>
<circle cx="517.2" cy="27.1" r="1.70"/>
<circle cx="556.0" cy="27.2" r="1.70"/>
<circle cx="535.7" cy="27.2" r="1.70"/>
<circle cx="563.0" cy="27.2" r="1.70"/>
<circle cx="542.1" cy="27.3" r="1.70"/>
<circle cx="528.3" cy="27.4" r="1.70"/>
<circle cx="560.5" cy="27.4" r="1.70"/>
<circle cx="534.9" cy="27.4" r="1.70"/>
<circle cx="520.4" cy="27.5" r="1.70"/>
<circle cx="551.9" cy="27.5" r="1.70"/>
<circle cx="533.7" cy="27.6" r="1.70"/>
<circle cx="558.9" cy="27.7" r="1.70"/>
<circle cx="539.0" cy="27.7" r="1.70"/>
<circle cx="520.2" cy="27.8" r="1.70"/>
<circle cx="551.7" cy="27.8" r="1.70"/>
<circle cx="537.9" cy="27.8" r="1.70"/>
<circle cx="566.8" cy="27.9" r="1.70"/>
<circle cx="546.4" cy="28.0" r="1.70"/>
<circle cx="524.4" cy="28.0" r="1.70"/>
<circle cx="557.3" cy="28.1" r="1.70"/>
<circle cx="537.1" cy="28.2" r="1.70"/>
<circle cx="521.2" cy="28.4" r="1.70"/>
<circle cx="552.9" cy="28.6" r="1.70"/>
<circle cx="534.1" cy="28.6" r="1.70"/>
<circle cx="562.6" cy="28.8" r="1.70"/>
<circle cx="543.4" cy="29.0" r="1.70"/>
<circle cx="524.2" cy="29.1" r="1.70"/>
<circle cx="554.7" cy="29.3" r="1.70"/>
<circle cx="536.0" cy="29.5" r="1.70"/>
<circle cx="518.5" cy="29.6" r="1.70"/>
<circle cx="550.1" cy="29.8" r="1.70"/>
<circle cx="527.5" cy="29.9" r="1.70"/>
<circle cx="561.0" cy="30.2" r="1.70"/>
<circle cx="538.1" cy="30.3" r="1.70"/>
<circle cx="517.8" cy="30.5" r="1.70"/>
<circle cx="552.1" cy="30.6" r="1.70"/>
<circle cx="532.3" cy="30.8" r="1.70"/>
<circle cx="561.3" cy="31.0" r="1.70"/>
<circle cx="542.1" cy="31.1" r="1.70"/>
<circle cx="525.4" cy="31.2" r="1.70"/>
<circle cx="561.3" cy="31.4" r="1.70"/>
<circle cx="540.9" cy="31.5" r="1.70"/>
<circle cx="516.0" cy="31.7" r="1.70"/>
<circle cx="548.7" cy="31.9" r="1.70"/>
<circle cx="529.6" cy="32.1" r="1.70"/>
<circle cx="560.6" cy="32.1" r="1.70"/>
<circle cx="539.8" cy="32.4" r="1.70"/>
<circle cx="524.2" cy="32.5" r="1.70"/>
<circle cx="557.2" cy="32.6" r="1.70"/>
<circle cx="534.5" cy="32.9" r="1.70"/>
<circle cx="563.3" cy="33.0" r="1.70"/>
<circle cx="544.0" cy="33.1" r="1.70"/>
<circle cx="524.7" cy="33.3" r="1.70"/>
<circle cx="560.4" cy="33.5" r="1.70"/>
<circle cx="538.0" cy="33.7" r="1.70"/>
<circle cx="523.9" cy="33.8" r="1.70"/>
<circle cx="553.1" cy="34.0" r="1.70"/>
<circle cx="530.4" cy="34.1" r="1.70"/>
<circle cx="558.9" cy="34.3" r="1.70"/>
<circle cx="542.8" cy="34.6" r="1.70"/>
<circle cx="529.7" cy="34.8" r="1.70"/>
<circle cx="555.2" cy="35.0" r="1.70"/>
<circle cx="536.7" cy="35.1" r="1.70"/>
<circle cx="522.7" cy="35.3" r="1.70"/>
<circle cx="546.4" cy="35.5" r="1.70"/>
<circle cx="532.8" cy="35.9" r="1.70"/>
<circle cx="557.0" cy="36.0" r="1.70"/>
<circle cx="540.3" cy="36.2" r="1.70"/>
<circle cx="530.6" cy="36.5" r="1.70"/>
<circle cx="551.5" cy="36.7" r="1.70"/>
<circle cx="537.5" cy="37.0" r="1.70"/>
<circle cx="557.1" cy="37.3" r="1.70"/>
<circle cx="546.5" cy="37.5" r="1.70"/>
<circle cx="531.6" cy="37.9" r="1.70"/>
<circle cx="553.1" cy="38.2" r="1.70"/>
<circle cx="538.7" cy="38.3" r="1.70"/>
<circle cx="531.1" cy="38.7" r="1.70"/>
<circle cx="544.8" cy="38.9" r="1.70"/>
<circle cx="535.7" cy="39.2" r="1.70"/>
<circle cx="551.7" cy="39.5" r="1.70"/>
<circle cx="543.7" cy="40.0" r="1.70"/>
<circle cx="534.4" cy="40.2" r="1.70"/>
<circle cx="546.5" cy="40.6" r="1.70"/>
<circle cx="540.7" cy="41.2" r="1.70"/>
<circle cx="533.4" cy="41.6" r="1.70"/>
<circle cx="543.9" cy="41.9" r="1.70"/>
<circle cx="536.2" cy="42.5" r="1.70"/>
<circle cx="546.9" cy="42.8" r="1.70"/>
<circle cx="540.9" cy="43.4" r="1.70"/>
<circle cx="536.1" cy="43.8" r="1.70"/>
<circle cx="544.9" cy="44.5" r="1.70"/>
<circle cx="540.1" cy="45.0" r="1.70"/>
<circle cx="545.9" cy="45.9" r="1.70"/>
<circle cx="541.7" cy="46.6" r="1.70"/>
<circle cx="539.2" cy="46.9" r="1.70"/>
<circle cx="543.5" cy="47.7" r="1.70"/>
<circle cx="541.3" cy="48.5" r="1.70"/>
<circle cx="540.2" cy="49.9" r="1.70"/>
<circle cx="541.8" cy="53.1" r="1.70"/>
<circle cx="541.1" cy="55.7" r="1.70"/>
<circle cx="542.4" cy="56.1" r="1.70"/>
<circle cx="541.7" cy="58.3" r="1.70"/>
<circle cx="540.9" cy="61.2" r="1.70"/>
<circle cx="542.2" cy="62.1" r="1.70"/>
<circle cx="541.3" cy="65.3" r="1.70"/>
<circle cx="542.5" cy="66.3" r="1.70"/>
<circle cx="541.9" cy="68.4" r="1.70"/>
<circle cx="541.1" cy="69.8" r="1.70"/>
<circle cx="542.3" cy="72.0" r="1.70"/>
<circle cx="541.6" cy="74.6" r="1.70"/>
<circle cx="541.0" cy="76.8" r="1.70"/>
<circle cx="541.8" cy="81.4" r="1.70"/>
<circle cx="541.4" cy="98.7" r="1.70"/>
<circle cx="541.4" cy="108.2" r="1.70"/>
<circle cx="541.2" cy="125.4" r="1.70"/>
<circle cx="541.1" cy="129.2" r="1.70"/>
<circle cx="541.6" cy="132.5" r="1.70"/>
<circle cx="541.1" cy="144.8" r="1.70"/>
<circle cx="542.1" cy="153.9" r="1.70"/>
<circle cx="541.5" cy="172.8" r="1.70"/>
</g>
<g fill="#A2142F">
<circle cx="604.7" cy="22.5" r="1.70"/>
<circle cx="598.1" cy="22.6" r="1.70"/>
<circle cx="588.6" cy="22.6" r="1.70"/>
<circle cx="607.0" cy="22.7" r="1.70"/>
<circle cx="591.5" cy="22.8" r="1.70"/>
<circle cx="619.6" cy="22.9" r="1.70"/>
<circle cx="603.0" cy="22.9" r="1.70"/>
<circle cx="589.8" cy="23.0" r="1.70"/>
<circle cx="612.4" cy="23.0" r="1.70"/>
<circle cx="600.7" cy="23.1" r="1.70"/>
<circle cx="579.1" cy="23.1" r="1.70"/>
<circle cx="607.8" cy="23.2" r="1.70"/>
<circle cx="589.2" cy="23.2" r="1.70"/>
<circle cx="614.6" cy="23.3" r="1.70"/>
<circle cx="600.0" cy="23.3" r="1.70"/>
<circle cx="587.2" cy="23.4" r="1.70"/>
<circle cx="610.5" cy="23.4" r="1.70"/>
<circle cx="594.7" cy="23.5" r="1.70"/>
<circle cx="577.6" cy="23.5" r="1.70"/>
<circle cx="603.9" cy="23.6" r="1.70"/>
<circle cx="588.2" cy="23.6" r="1.70"/>
<circle cx="613.4" cy="23.6" r="1.70"/>
<circle cx="597.7" cy="23.7" r="1.70"/>
<circle cx="579.2" cy="23.8" r="1.70"/>
<circle cx="612.5" cy="23.8" r="1.70"/>
<circle cx="593.9" cy="23.9" r="1.70"/>
<circle cx="623.1" cy="23.9" r="1.70"/>
<circle cx="604.0" cy="24.0" r="1.70"/>
<circle cx="587.5" cy="24.0" r="1.70"/>
<circle cx="616.9" cy="24.1" r="1.70"/>
<circle cx="592.6" cy="24.1" r="1.70"/>
<circle cx="574.4" cy="24.1" r="1.70"/>
<circle cx="609.9" cy="24.2" r="1.70"/>
<circle cx="591.4" cy="24.2" r="1.70"/>
<circle cx="623.8" cy="24.3" r="1.70"/>
<circle cx="602.8" cy="24.3" r="1.70"/>
<circle cx="578.5" cy="24.3" r="1.70"/>
<circle cx="613.0" cy="24.4" r="1.70"/>
<circle cx="594.2" cy="24.4" r="1.70"/>
<circle cx="624.6" cy="24.5" r="1.70"/>
<circle cx="602.2" cy="24.5" r="1.70"/>
<circle cx="589.6" cy="24.6" r="1.70"/>
<circle cx="617.2" cy="24.6" r="1.70"/>
<circle cx="595.9" cy="24.6" r="1.70"/>
<circle cx="582.3" cy="24.7" r="1.70"/>
<circle cx="608.8" cy="24.8" r="1.70"/>
<circle cx="586.9" cy="24.8" r="1.70"/>
<circle cx="623.1" cy="24.8" r="1.70"/>
<circle cx="600.4" cy="24.9" r="1.70"/>
<circle cx="580.6" cy="24.9" r="1.70"/>
<circle cx="612.7" cy="24.9" r="1.70"/>
<circle cx="595.8" cy="25.0" r="1.70"/>
<circle cx="574.0" cy="25.0" r="1.70"/>
<circle cx="608.3" cy="25.1" r="1.70"/>
<circle cx="590.8" cy="25.2" r="1.70"/>
<circle cx="623.0" cy="25.2" r="1.70"/>
<circle cx="602.7" cy="25.2" r="1.70"/>
<circle cx="583.4" cy="25.3" r="1.70"/>
<circle cx="609.5" cy="25.3" r="1.70"/>
<circle cx="594.7" cy="25.4" r="1.70"/>
<circle cx="620.3" cy="25.4" r="1.70"/>
<circle cx="604.8" cy="25.4" r="1.70"/>
<circle cx="581.1" cy="25.5" r="1.70"/>
<circle cx="612.9" cy="25.5" r="1.70"/>
<circle cx="600.3" cy="25.6" r="1.70"/>
<circle cx="574.0" cy="25.6" r="1.70"/>
<circle cx="610.5" cy="25.7" r="1.70"/>
<circle cx="589.4" cy="25.7" r="1.70"/>
<circle cx="616.8" cy="25.8" r="1.70"/>
<circle cx="603.7" cy="25.8" r="1.70"/>
<circle cx="578.0" cy="25.8" r="1.70"/>
<circle cx="616.6" cy="25.9" r="1.70"/>
<circle cx="596.4" cy="25.9" r="1.70"/>
<circle cx="574.1" cy="26.0" r="1.70"/>
<circle cx="605.5" cy="26.0" r="1.70"/>
<circle cx="582.4" cy="26.0" r="1.70"/>
<circle cx="619.7" cy="26.1" r="1.70"/>
<circle cx="594.6" cy="26.1" r="1.70"/>
<circle cx="578.9" cy="26.2" r="1.70"/>
<circle cx="614.1" cy="26.2" r="1.70"/>
<circle cx="592.3" cy="26.3" r="1.70"/>
<circle cx="619.6" cy="26.3" r="1.70"/>
<circle cx="604.9" cy="26.4" r="1.70"/>
<circle cx="585.0" cy="26.4" r="1.70"/>
<circle cx="613.9" cy="26.4" r="1.70"/>
<circle cx="597.8" cy="26.5" r="1.70"/>
<circle cx="576.4" cy="26.5" r="1.70"/>
<circle cx="607.0" cy="26.6" r="1.70"/>
<circle cx="588.2" cy="26.6" r="1.70"/>
<circle cx="618.1" cy="26.6" r="1.70"/>
<circle cx="598.4" cy="26.7" r="1.70"/>
<circle cx="583.6" cy="26.8" r="1.70"/>
<circle cx="611.2" cy="26.8" r="1.70"/>
<circle cx="594.9" cy="26.8" r="1.70"/>
<circle cx="623.6" cy="26.9" r="1.70"/>
<circle cx="602.3" cy="26.9" r="1.70"/>
<circle cx="580.8" cy="27.0" r="1.70"/>
<circle cx="621.0" cy="27.0" r="1.70"/>
<circle cx="599.4" cy="27.0" r="1.70"/>
<circle cx="581.4" cy="27.1" r="1.70"/>
<circle cx="610.3" cy="27.1" r="1.70"/>
<circle cx="586.0" cy="27.3" r="1.70"/>
<circle cx="619.2" cy="27.3" r="1.70"/>
<circle cx="598.2" cy="27.5" r="1.70"/>
<circle cx="582.9" cy="27.6" r="1.70"/>
<circle cx="615.4" cy="27.7" r="1.70"/>
<circle cx="598.2" cy="27.9" r="1.70"/>
<circle cx="573.1" cy="28.0" r="1.70"/>
<circle cx="604.5" cy="28.1" r="1.70"/>
<circle cx="584.4" cy="28.2" r="1.70"/>
<circle cx="616.2" cy="28.3" r="1.70"/>
<circle cx="595.1" cy="28.4" r="1.70"/>
<circle cx="579.0" cy="28.5" r="1.70"/>
<circle cx="610.8" cy="28.5" r="1.70"/>
<circle cx="590.3" cy="28.7" r="1.70"/>
<circle cx="625.6" cy="28.8" r="1.70"/>
<circle cx="602.2" cy="28.9" r="1.70"/>
<circle cx="586.5" cy="29.0" r="1.70"/>
<circle cx="616.5" cy="29.1" r="1.70"/>
<circle cx="592.8" cy="29.3" r="1.70"/>
<circle cx="573.1" cy="29.3" r="1.70"/>
<circle cx="609.5" cy="29.5" r="1.70"/>
<circle cx="591.6" cy="29.6" r="1.70"/>
<circle cx="617.1" cy="29.7" r="1.70"/>
<circle cx="602.6" cy="29.8" r="1.70"/>
<circle cx="578.6" cy="29.9" r="1.70"/>
<circle cx="614.8" cy="30.0" r="1.70"/>
<circle cx="596.0" cy="30.1" r="1.70"/>
<circle cx="575.1" cy="30.2" r="1.70"/>
<circle cx="603.5" cy="30.3" r="1.70"/>
<circle cx="582.8" cy="30.5" r="1.70"/>
<circle cx="621.6" cy="30.6" r="1.70"/>
<circle cx="601.4" cy="30.7" r="1.70"/>
<circle cx="582.0" cy="30.8" r="1.70"/>
<circle cx="610.3" cy="30.8" r="1.70"/>
<circle cx="587.1" cy="31.0" r="1.70"/>
<circle cx="620.4" cy="31.1" r="1.70"/>
<circle cx="605.7" cy="31.2" r="1.70"/>
<circle cx="580.4" cy="31.3" r="1.70"/>
<circle cx="612.3" cy="31.4" r="1.70"/>
<circle cx="591.9" cy="31.6" r="1.70"/>
<circle cx="580.3" cy="31.7" r="1.70"/>
<circle cx="605.5" cy="31.8" r="1.70"/>
<circle cx="585.7" cy="31.9" r="1.70"/>
<circle cx="616.1" cy="32.0" r="1.70"/>
<circle cx="597.6" cy="32.2" r="1.70"/>
<circle cx="582.3" cy="32.4" r="1.70"/>
<circle cx="610.9" cy="32.5" r="1.70"/>
<circle cx="594.4" cy="32.5" r="1.70"/>
<circle cx="617.1" cy="32.7" r="1.70"/>
<circle cx="603.7" cy="32.8" r="1.70"/>
<circle cx="584.6" cy="33.0" r="1.70"/>
<circle cx="612.6" cy="33.1" r="1.70"/>
<circle cx="599.4" cy="33.2" r="1.70"/>
<circle cx="581.0" cy="33.4" r="1.70"/>
<circle cx="608.6" cy="33.5" r="1.70"/>
<circle cx="590.6" cy="33.7" r="1.70"/>
<circle cx="614.4" cy="33.8" r="1.70"/>
<circle cx="602.5" cy="34.0" r="1.70"/>
<circle cx="585.1" cy="34.2" r="1.70"/>
<circle cx="608.9" cy="34.4" r="1.70"/>
<circle cx="596.2" cy="34.5" r="1.70"/>
<circle cx="585.5" cy="35.2" r="1.70"/>
<circle cx="605.3" cy="36.1" r="1.70"/>
<circle cx="593.3" cy="36.9" r="1.70"/>
<circle cx="607.7" cy="37.9" r="1.70"/>
<circle cx="597.8" cy="38.3" r="1.70"/>
<circle cx="589.9" cy="38.9" r="1.70"/>
<circle cx="603.2" cy="40.6" r="1.70"/>
<circle cx="596.7" cy="41.9" r="1.70"/>
<circle cx="604.9" cy="43.8" r="1.70"/>
<circle cx="600.8" cy="44.3" r="1.70"/>
<circle cx="595.4" cy="44.7" r="1.70"/>
<circle cx="602.2" cy="45.1" r="1.70"/>
<circle cx="598.1" cy="46.2" r="1.70"/>
<circle cx="596.0" cy="46.8" r="1.70"/>
<circle cx="600.9" cy="47.9" r="1.70"/>
<circle cx="598.5" cy="48.6" r="1.70"/>
<circle cx="600.1" cy="51.5" r="1.70"/>
<circle cx="599.5" cy="52.9" r="1.70"/>
<circle cx="598.6" cy="54.3" r="1.70"/>
<circle cx="599.9" cy="54.8" r="1.70"/>
<circle cx="599.3" cy="56.6" r="1.70"/>
<circle cx="600.1" cy="57.2" r="1.70"/>
<circle cx="599.4" cy="58.0" r="1.70"/>
<circle cx="598.9" cy="59.8" r="1.70"/>
<circle cx="599.7" cy="61.3" r="1.70"/>
<circle cx="599.4" cy="63.9" r="1.70"/>
<circle cx="598.9" cy="64.6" r="1.70"/>
<circle cx="599.3" cy="79.5" r="1.70"/>
<circle cx="598.9" cy="82.5" r="1.70"/>
<circle cx="599.5" cy="91.7" r="1.70"/>
<circle cx="598.9" cy="95.0" r="1.70"/>
<circle cx="598.9" cy="98.3" r="1.70"/>
<circle cx="599.5" cy="101.7" r="1.70"/>
<circle cx="599.5" cy="120.6" r="1.70"/>
<circle cx="599.7" cy="133.5" r="1.70"/>
<circle cx="599.8" cy="169.0" r="1.70"/>
<circle cx="598.9" cy="196.8" r="1.70"/>
<circle cx="599.1" cy="217.5" r="1.70"/>
</g>
<g fill="#EDB120">
<circle cx="655.4" cy="22.4" r="1.70"/>
<circle cx="665.1" cy="22.6" r="1.70"/>
<circle cx="657.3" cy="22.6" r="1.70"/>
<circle cx="642.0" cy="22.7" r="1.70"/>
<circle cx="666.6" cy="22.8" r="1.70"/>
<circle cx="649.4" cy="22.8" r="1.70"/>
<circle cx="678.4" cy="22.8" r="1.70"/>
<circle cx="660.2" cy="22.9" r="1.70"/>
<circle cx="639.3" cy="23.0" r="1.70"/>
<circle cx="672.0" cy="23.0" r="1.70"/>
<circle cx="654.6" cy="23.0" r="1.70"/>
<circle cx="634.9" cy="23.1" r="1.70"/>
<circle cx="667.5" cy="23.1" r="1.70"/>
<circle cx="646.1" cy="23.1" r="1.70"/>
<circle cx="672.6" cy="23.2" r="1.70"/>
<circle cx="657.4" cy="23.2" r="1.70"/>
<circle cx="638.2" cy="23.3" r="1.70"/>
<circle cx="665.9" cy="23.3" r="1.70"/>
<circle cx="653.3" cy="23.4" r="1.70"/>
<circle cx="677.3" cy="23.4" r="1.70"/>
<circle cx="663.2" cy="23.5" r="1.70"/>
<circle cx="640.8" cy="23.5" r="1.70"/>
<circle cx="673.1" cy="23.6" r="1.70"/>
<circle cx="658.4" cy="23.6" r="1.70"/>
<circle cx="633.0" cy="23.6" r="1.70"/>
<circle cx="668.8" cy="23.7" r="1.70"/>
<circle cx="643.6" cy="23.7" r="1.70"/>
<circle cx="681.3" cy="23.8" r="1.70"/>
<circle cx="662.2" cy="23.8" r="1.70"/>
<circle cx="639.8" cy="23.8" r="1.70"/>
<circle cx="671.7" cy="23.9" r="1.70"/>
<circle cx="651.5" cy="23.9" r="1.70"/>
<circle cx="632.3" cy="24.0" r="1.70"/>
<circle cx="662.3" cy="24.0" r="1.70"/>
<circle cx="644.0" cy="24.0" r="1.70"/>
<circle cx="678.3" cy="24.1" r="1.70"/>
<circle cx="653.1" cy="24.2" r="1.70"/>
<circle cx="637.3" cy="24.2" r="1.70"/>
<circle cx="667.9" cy="24.2" r="1.70"/>
<circle cx="649.3" cy="24.3" r="1.70"/>
<circle cx="682.3" cy="24.3" r="1.70"/>
<circle cx="661.6" cy="24.3" r="1.70"/>
<circle cx="640.0" cy="24.4" r="1.70"/>
<circle cx="676.4" cy="24.4" r="1.70"/>
<circle cx="654.2" cy="24.5" r="1.70"/>
<circle cx="632.2" cy="24.5" r="1.70"/>
<circle cx="665.7" cy="24.5" r="1.70"/>
<circle cx="649.0" cy="24.6" r="1.70"/>
<circle cx="673.6" cy="24.6" r="1.70"/>
<circle cx="659.1" cy="24.7" r="1.70"/>
<circle cx="638.5" cy="24.7" r="1.70"/>
<circle cx="668.2" cy="24.7" r="1.70"/>
<circle cx="647.8" cy="24.8" r="1.70"/>
<circle cx="679.7" cy="24.8" r="1.70"/>
<circle cx="662.0" cy="24.9" r="1.70"/>
<circle cx="642.5" cy="24.9" r="1.70"/>
<circle cx="675.4" cy="24.9" r="1.70"/>
<circle cx="653.2" cy="25.0" r="1.70"/>
<circle cx="636.6" cy="25.0" r="1.70"/>
<circle cx="666.9" cy="25.1" r="1.70"/>
<circle cx="650.1" cy="25.1" r="1.70"/>
<circle cx="681.7" cy="25.2" r="1.70"/>
<circle cx="657.6" cy="25.2" r="1.70"/>
<circle cx="644.1" cy="25.2" r="1.70"/>
<circle cx="672.1" cy="25.3" r="1.70"/>
<circle cx="650.9" cy="25.3" r="1.70"/>
<circle cx="631.5" cy="25.4" r="1.70"/>
<circle cx="666.1" cy="25.4" r="1.70"/>
<circle cx="644.3" cy="25.4" r="1.70"/>
<circle cx="677.9" cy="25.5" r="1.70"/>
<circle cx="654.9" cy="25.5" r="1.70"/>
<circle cx="640.3" cy="25.6" r="1.70"/>
<circle cx="667.0" cy="25.6" r="1.70"/>
<circle cx="652.4" cy="25.6" r="1.70"/>
<circle cx="680.6" cy="25.7" r="1.70"/>
<circle cx="660.7" cy="25.7" r="1.70"/>
<circle cx="642.5" cy="25.7" r="1.70"/>
<circle cx="673.8" cy="25.8" r="1.70"/>
<circle cx="654.4" cy="25.9" r="1.70"/>
<circle cx="634.9" cy="25.9" r="1.70"/>
<circle cx="669.8" cy="25.9" r="1.70"/>
<circle cx="648.5" cy="26.0" r="1.70"/>
<circle cx="674.9" cy="26.0" r="1.70"/>
<circle cx="662.7" cy="26.0" r="1.70"/>
<circle cx="635.0" cy="26.1" r="1.70"/>
<circle cx="667.1" cy="26.1" r="1.70"/>
<circle cx="653.7" cy="26.2" r="1.70"/>
<circle cx="631.3" cy="26.2" r="1.70"/>
<circle cx="659.4" cy="26.2" r="1.70"/>
<circle cx="640.9" cy="26.3" r="1.70"/>
<circle cx="675.5" cy="26.3" r="1.70"/>
<circle cx="658.6" cy="26.4" r="1.70"/>
<circle cx="632.0" cy="26.4" r="1.70"/>
<circle cx="665.2" cy="26.5" r="1.70"/>
<circle cx="644.2" cy="26.5" r="1.70"/>
<circle cx="676.5" cy="26.5" r="1.70"/>
<circle cx="658.9" cy="26.6" r="1.70"/>
<circle cx="640.6" cy="26.6" r="1.70"/>
<circle cx="676.6" cy="26.6" r="1.70"/>
<circle cx="654.1" cy="26.7" r="1.70"/>
<circle cx="636.0" cy="26.7" r="1.70"/>
<circle cx="665.9" cy="26.8" r="1.70"/>
<circle cx="648.7" cy="26.9" r="1.70"/>
<circle cx="678.9" cy="27.0" r="1.70"/>
<circle cx="655.4" cy="27.0" r="1.70"/>
<circle cx="636.5" cy="27.2" r="1.70"/>
<circle cx="669.7" cy="27.2" r="1.70"/>
<circle cx="646.7" cy="27.3" r="1.70"/>
<circle cx="683.2" cy="27.4" r="1.70"/>
<circle cx="662.1" cy="27.5" r="1.70"/>
<circle cx="639.7" cy="27.6" r="1.70"/>
<circle cx="674.6" cy="27.7" r="1.70"/>
<circle cx="657.2" cy="27.8" r="1.70"/>
<circle cx="632.7" cy="27.8" r="1.70"/>
<circle cx="667.7" cy="27.9" r="1.70"/>
<circle cx="643.5" cy="28.0" r="1.70"/>
<circle cx="677.2" cy="28.1" r="1.70"/>
<circle cx="656.7" cy="28.1" r="1.70"/>
<circle cx="639.4" cy="28.2" r="1.70"/>
<circle cx="673.3" cy="28.3" r="1.70"/>
<circle cx="649.4" cy="28.4" r="1.70"/>
<circle cx="633.3" cy="28.4" r="1.70"/>
<circle cx="664.8" cy="28.6" r="1.70"/>
<circle cx="646.2" cy="28.7" r="1.70"/>
<circle cx="680.6" cy="28.7" r="1.70"/>
<circle cx="655.0" cy="28.8" r="1.70"/>
<circle cx="640.6" cy="28.8" r="1.70"/>
<circle cx="668.4" cy="28.9" r="1.70"/>
<circle cx="648.9" cy="29.0" r="1.70"/>
<circle cx="678.5" cy="29.1" r="1.70"/>
<circle cx="657.7" cy="29.2" r="1.70"/>
<circle cx="642.3" cy="29.3" r="1.70"/>
<circle cx="670.2" cy="29.4" r="1.70"/>
<circle cx="649.6" cy="29.4" r="1.70"/>
<circle cx="630.8" cy="29.5" r="1.70"/>
<circle cx="666.2" cy="29.6" r="1.70"/>
<circle cx="643.5" cy="29.7" r="1.70"/>
<circle cx="675.9" cy="29.7" r="1.70"/>
<circle cx="660.4" cy="29.8" r="1.70"/>
<circle cx="638.5" cy="29.9" r="1.70"/>
<circle cx="667.1" cy="30.1" r="1.70"/>
<circle cx="652.4" cy="30.2" r="1.70"/>
<circle cx="681.4" cy="30.2" r="1.70"/>
<circle cx="663.4" cy="30.3" r="1.70"/>
<circle cx="643.9" cy="30.4" r="1.70"/>
<circle cx="673.7" cy="30.5" r="1.70"/>
<circle cx="657.0" cy="30.5" r="1.70"/>
<circle cx="640.6" cy="30.7" r="1.70"/>
<circle cx="668.3" cy="30.7" r="1.70"/>
<circle cx="647.3" cy="30.8" r="1.70"/>
<circle cx="678.3" cy="30.9" r="1.70"/>
<circle cx="656.8" cy="31.0" r="1.70"/>
<circle cx="640.6" cy="31.1" r="1.70"/>
<circle cx="669.5" cy="31.2" r="1.70"/>
<circle cx="651.2" cy="31.3" r="1.70"/>
<circle cx="637.9" cy="31.4" r="1.70"/>
<circle cx="661.6" cy="31.8" r="1.70"/>
<circle cx="650.6" cy="32.1" r="1.70"/>
<circle cx="671.2" cy="32.6" r="1.70"/>
<circle cx="659.0" cy="33.0" r="1.70"/>
<circle cx="646.1" cy="33.5" r="1.70"/>
<circle cx="664.9" cy="33.8" r="1.70"/>
<circle cx="653.7" cy="34.4" r="1.70"/>
<circle cx="671.7" cy="35.0" r="1.70"/>
<circle cx="659.4" cy="35.3" r="1.70"/>
<circle cx="647.0" cy="36.1" r="1.70"/>
<circle cx="666.8" cy="36.6" r="1.70"/>
<circle cx="657.4" cy="37.4" r="1.70"/>
<circle cx="646.9" cy="37.8" r="1.70"/>
<circle cx="660.6" cy="38.5" r="1.70"/>
<circle cx="653.0" cy="39.2" r="1.70"/>
<circle cx="664.9" cy="39.5" r="1.70"/>
<circle cx="657.4" cy="40.2" r="1.70"/>
<circle cx="652.5" cy="41.0" r="1.70"/>
<circle cx="659.4" cy="42.2" r="1.70"/>
<circle cx="656.0" cy="43.3" r="1.70"/>
<circle cx="653.2" cy="43.9" r="1.70"/>
<circle cx="657.4" cy="46.5" r="1.70"/>
<circle cx="656.2" cy="47.8" r="1.70"/>
<circle cx="658.1" cy="48.5" r="1.70"/>
<circle cx="657.0" cy="52.0" r="1.70"/>
<circle cx="656.6" cy="58.3" r="1.70"/>
<circle cx="657.3" cy="59.3" r="1.70"/>
<circle cx="656.9" cy="60.3" r="1.70"/>
<circle cx="657.6" cy="61.6" r="1.70"/>
<circle cx="657.1" cy="63.9" r="1.70"/>
<circle cx="656.8" cy="65.6" r="1.70"/>
<circle cx="657.1" cy="73.3" r="1.70"/>
<circle cx="656.6" cy="75.7" r="1.70"/>
<circle cx="657.1" cy="84.0" r="1.70"/>
<circle cx="656.8" cy="95.0" r="1.70"/>
<circle cx="656.8" cy="103.3" r="1.70"/>
<circle cx="657.6" cy="105.7" r="1.70"/>
<circle cx="657.0" cy="109.0" r="1.70"/>
<circle cx="657.3" cy="117.9" r="1.70"/>
<circle cx="656.6" cy="127.2" r="1.70"/>
<circle cx="657.2" cy="136.3" r="1.70"/>
<circle cx="656.6" cy="162.2" r="1.70"/>
<circle cx="656.7" cy="174.3" r="1.70"/>
<circle cx="656.6" cy="176.3" r="1.70"/>
</g>
<line x1="65.8" x2="94.4" y1="80.8" y2="80.8" stroke="#000" stroke-width="2"/>
<line x1="65.6" x2="94.6" y1="109.5" y2="109.5" stroke="#3c3c3c" stroke-width="0.8"/>
<line x1="123.5" x2="152.1" y1="51.6" y2="51.6" stroke="#000" stroke-width="2"/>
<line x1="123.3" x2="152.3" y1="62.5" y2="62.5" stroke="#3c3c3c" stroke-width="0.8"/>
<line x1="181.2" x2="209.8" y1="42.2" y2="42.2" stroke="#000" stroke-width="2"/>
<line x1="181.0" x2="210.0" y1="51.5" y2="51.5" stroke="#3c3c3c" stroke-width="0.8"/>
<line x1="238.9" x2="267.5" y1="38.6" y2="38.6" stroke="#000" stroke-width="2"/>
<line x1="238.7" x2="267.7" y1="46.5" y2="46.5" stroke="#3c3c3c" stroke-width="0.8"/>
<line x1="296.6" x2="325.2" y1="34.3" y2="34.3" stroke="#000" stroke-width="2"/>
<line x1="296.4" x2="325.4" y1="42.5" y2="42.5" stroke="#3c3c3c" stroke-width="0.8"/>
<line x1="354.3" x2="382.9" y1="32.6" y2="32.6" stroke="#000" stroke-width="2"/>
<line x1="354.1" x2="383.1" y1="40.5" y2="40.5" stroke="#3c3c3c" stroke-width="0.8"/>
<line x1="412.0" x2="440.6" y1="31.8" y2="31.8" stroke="#000" stroke-width="2"/>
<line x1="411.8" x2="440.8" y1="38.5" y2="38.5" stroke="#3c3c3c" stroke-width="0.8"/>
<line x1="469.7" x2="498.3" y1="29.9" y2="29.9" stroke="#000" stroke-width="2"/>
<line x1="469.5" x2="498.5" y1="38.5" y2="38.5" stroke="#3c3c3c" stroke-width="0.8"/>
<line x1="527.4" x2="556.0" y1="28.2" y2="28.2" stroke="#000" stroke-width="2"/>
<line x1="527.2" x2="556.2" y1="36.5" y2="36.5" stroke="#3c3c3c" stroke-width="0.8"/>
<line x1="585.1" x2="613.7" y1="27.0" y2="27.0" stroke="#000" stroke-width="2"/>
<line x1="584.9" x2="613.9" y1="34.5" y2="34.5" stroke="#3c3c3c" stroke-width="0.8"/>
<line x1="642.8" x2="671.4" y1="26.6" y2="26.6" stroke="#000" stroke-width="2"/>
<line x1="642.6" x2="671.6" y1="35.5" y2="35.5" stroke="#3c3c3c" stroke-width="0.8"/>
<g stroke="#4a4a4a" stroke-width="0.67" fill="none">
<path d="M51.3 22.6V293.1H686.3"/>
<path d="M51.3 22.6h6.5"/>
<path d="M51.3 67.7h6.5"/>
<path d="M51.3 112.8h6.5"/>
<path d="M51.3 157.9h6.5"/>
<path d="M51.3 202.9h6.5"/>
<path d="M51.3 248.0h6.5"/>
<path d="M80.1 293.1v-6.5"/>
<path d="M137.8 293.1v-6.5"/>
<path d="M195.5 293.1v-6.5"/>
<path d="M253.2 293.1v-6.5"/>
<path d="M310.9 293.1v-6.5"/>
<path d="M368.6 293.1v-6.5"/>
<path d="M426.3 293.1v-6.5"/>
<path d="M484.0 293.1v-6.5"/>
<path d="M541.7 293.1v-6.5"/>
<path d="M599.4 293.1v-6.5"/>
<path d="M657.1 293.1v-6.5"/>
</g>
<text class="t" x="45.6" y="27.9" text-anchor="end">1</text>
<text class="t" x="45.6" y="73.0" text-anchor="end">0.8</text>
<text class="t" x="45.6" y="118.1" text-anchor="end">0.6</text>
<text class="t" x="45.6" y="163.2" text-anchor="end">0.4</text>
<text class="t" x="45.6" y="208.2" text-anchor="end">0.2</text>
<text class="t" x="45.6" y="253.3" text-anchor="end">0</text>
<text class="t" x="45.6" y="298.4" text-anchor="end">-0.2</text>
<text class="t" x="63.2" y="313.3">1100</text>
<text class="t" x="63.2" y="335.3">13.2</text>
<text class="t" x="120.9" y="313.3">2200</text>
<text class="t" x="120.9" y="335.3">26.4</text>
<text class="t" x="178.6" y="313.3">3300</text>
<text class="t" x="178.6" y="335.3">39.6</text>
<text class="t" x="236.3" y="313.3">4400</text>
<text class="t" x="236.3" y="335.3">52.8</text>
<text class="t" x="294.0" y="313.3">5500</text>
<text class="t" x="294.0" y="335.3">66.0</text>
<text class="t" x="351.7" y="313.3">6600</text>
<text class="t" x="351.7" y="335.3">79.2</text>
<text class="t" x="409.4" y="313.3">7700</text>
<text class="t" x="409.4" y="335.3">92.4</text>
<text class="t" x="465.0" y="313.3">8800</text>
<text class="t" x="465.0" y="335.3">105.6</text>
<text class="t" x="522.7" y="313.3">9900</text>
<text class="t" x="522.7" y="335.3">118.8</text>
<text class="t" x="578.2" y="313.3">11000</text>
<text class="t" x="578.2" y="335.3">132.0</text>
<text class="t" x="635.9" y="313.3">12100</text>
<text class="t" x="635.9" y="335.3">145.2</text>
<text class="l" x="687.6" y="314.8">TRs</text>
<text class="l" x="687.6" y="335">Mins</text>
<text class="l" x="368.5" y="353.4" text-anchor="middle">Data included (split across all 12 runs)</text>
<text class="l" transform="translate(12 157.5) rotate(-90)" text-anchor="middle">Correlation with subject maps from all 12 runs</text>
<text class="b" x="369.3" y="17.7" text-anchor="middle">Amount of data used for individual PROFUMO</text>
</svg></body></html>
